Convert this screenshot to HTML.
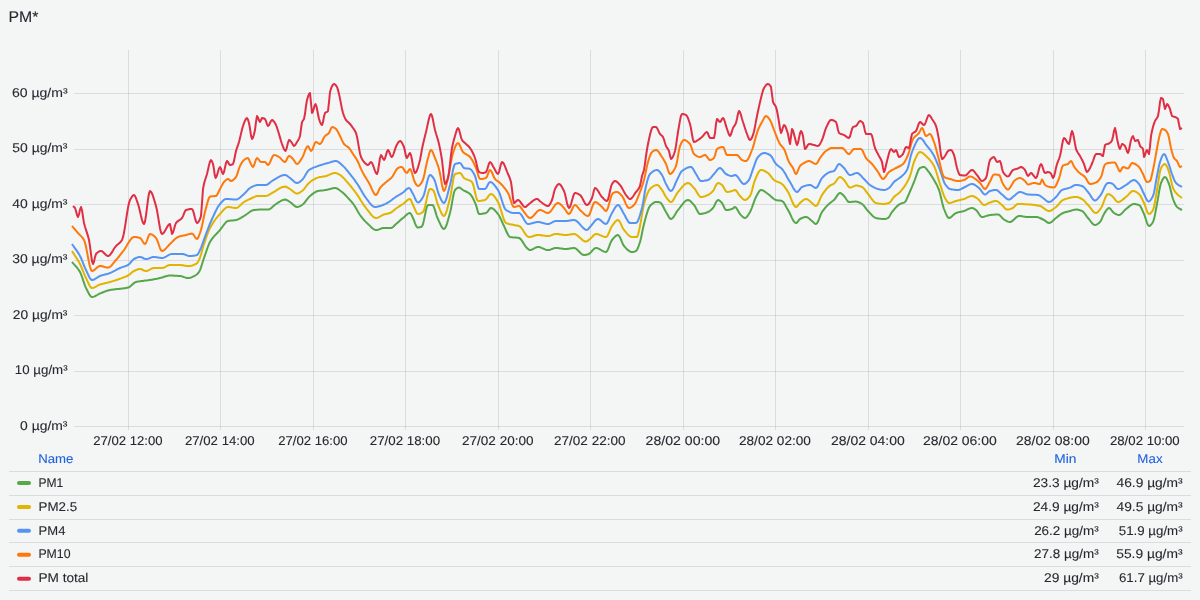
<!DOCTYPE html>
<html><head><meta charset="utf-8"><title>PM*</title>
<style>
html,body{margin:0;padding:0;background:#F4F5F5;}
body{width:1200px;height:600px;overflow:hidden;font-family:"Liberation Sans", sans-serif;}
svg{display:block;font-family:"Liberation Sans", sans-serif;will-change:transform;}
text{text-rendering:geometricPrecision;}
</style></head><body>
<svg width="1200" height="600" viewBox="0 0 1200 600">
<rect width="1200" height="600" fill="#F4F5F5"/>
<line x1="74" y1="93.5" x2="1184" y2="93.5" stroke="rgba(36,41,46,0.12)" stroke-width="1"/>
<line x1="74" y1="149.5" x2="1184" y2="149.5" stroke="rgba(36,41,46,0.12)" stroke-width="1"/>
<line x1="74" y1="204.5" x2="1184" y2="204.5" stroke="rgba(36,41,46,0.12)" stroke-width="1"/>
<line x1="74" y1="260.5" x2="1184" y2="260.5" stroke="rgba(36,41,46,0.12)" stroke-width="1"/>
<line x1="74" y1="315.5" x2="1184" y2="315.5" stroke="rgba(36,41,46,0.12)" stroke-width="1"/>
<line x1="74" y1="371.5" x2="1184" y2="371.5" stroke="rgba(36,41,46,0.12)" stroke-width="1"/>
<line x1="74" y1="426.5" x2="1184" y2="426.5" stroke="rgba(36,41,46,0.12)" stroke-width="1"/>
<line x1="128.5" y1="50" x2="128.5" y2="430" stroke="rgba(36,41,46,0.12)" stroke-width="1"/>
<line x1="220.5" y1="50" x2="220.5" y2="430" stroke="rgba(36,41,46,0.12)" stroke-width="1"/>
<line x1="313.5" y1="50" x2="313.5" y2="430" stroke="rgba(36,41,46,0.12)" stroke-width="1"/>
<line x1="405.5" y1="50" x2="405.5" y2="430" stroke="rgba(36,41,46,0.12)" stroke-width="1"/>
<line x1="498.5" y1="50" x2="498.5" y2="430" stroke="rgba(36,41,46,0.12)" stroke-width="1"/>
<line x1="590.5" y1="50" x2="590.5" y2="430" stroke="rgba(36,41,46,0.12)" stroke-width="1"/>
<line x1="683.5" y1="50" x2="683.5" y2="430" stroke="rgba(36,41,46,0.12)" stroke-width="1"/>
<line x1="775.5" y1="50" x2="775.5" y2="430" stroke="rgba(36,41,46,0.12)" stroke-width="1"/>
<line x1="868.5" y1="50" x2="868.5" y2="430" stroke="rgba(36,41,46,0.12)" stroke-width="1"/>
<line x1="960.5" y1="50" x2="960.5" y2="430" stroke="rgba(36,41,46,0.12)" stroke-width="1"/>
<line x1="1053.5" y1="50" x2="1053.5" y2="430" stroke="rgba(36,41,46,0.12)" stroke-width="1"/>
<line x1="1145.5" y1="50" x2="1145.5" y2="430" stroke="rgba(36,41,46,0.12)" stroke-width="1"/>
<path d="M72.0,262.0 L73.0,263.2 L74.0,264.3 L75.0,265.4 L76.0,266.5 L77.0,267.7 L78.0,269.0 L79.0,270.4 L80.0,272.0 L81.0,274.1 L82.0,276.8 L83.0,279.9 L84.0,282.9 L85.0,285.7 L86.0,288.0 L87.0,290.0 L88.0,292.0 L89.0,293.9 L90.0,295.5 L91.0,296.6 L92.0,297.0 L93.0,296.9 L94.0,296.6 L95.0,296.2 L96.0,295.6 L97.0,295.1 L98.0,294.5 L99.0,293.9 L100.0,293.5 L101.0,293.1 L102.0,292.7 L103.0,292.3 L104.0,291.9 L105.0,291.5 L106.0,291.1 L107.0,290.8 L108.0,290.5 L109.0,290.2 L110.0,290.0 L111.0,289.8 L112.0,289.7 L113.0,289.6 L114.0,289.5 L115.0,289.3 L116.0,289.2 L117.0,289.1 L118.0,289.0 L119.0,288.9 L120.0,288.8 L121.0,288.7 L122.0,288.5 L123.0,288.4 L124.0,288.3 L125.0,288.2 L126.0,288.0 L127.0,287.8 L128.0,287.6 L129.0,287.2 L130.0,286.6 L131.0,285.7 L132.0,284.8 L133.0,283.9 L134.0,283.1 L135.0,282.4 L136.0,282.0 L137.0,281.8 L138.0,281.6 L139.0,281.4 L140.0,281.3 L141.0,281.1 L142.0,281.0 L143.0,280.9 L144.0,280.7 L145.0,280.6 L146.0,280.5 L147.0,280.4 L148.0,280.3 L149.0,280.1 L150.0,280.0 L151.0,279.8 L152.0,279.7 L153.0,279.5 L154.0,279.3 L155.0,279.1 L156.0,278.9 L157.0,278.7 L158.0,278.4 L159.0,278.2 L160.0,278.0 L161.0,277.8 L162.0,277.5 L163.0,277.2 L164.0,276.8 L165.0,276.5 L166.0,276.2 L167.0,276.0 L168.0,275.8 L169.0,275.6 L170.0,275.6 L171.0,275.6 L172.0,275.6 L173.0,275.6 L174.0,275.7 L175.0,275.7 L176.0,275.8 L177.0,275.8 L178.0,275.9 L179.0,275.9 L180.0,276.0 L181.0,276.1 L182.0,276.4 L183.0,276.7 L184.0,277.1 L185.0,277.4 L186.0,277.7 L187.0,277.9 L188.0,278.0 L189.0,277.9 L190.0,277.8 L191.0,277.5 L192.0,277.1 L193.0,276.6 L194.0,276.1 L195.0,275.6 L196.0,275.0 L197.0,274.3 L198.0,273.3 L199.0,272.0 L200.0,270.1 L201.0,267.4 L202.0,264.2 L203.0,261.0 L204.0,258.0 L205.0,255.2 L206.0,252.2 L207.0,249.2 L208.0,246.5 L209.0,244.0 L210.0,242.0 L211.0,240.4 L212.0,238.9 L213.0,237.6 L214.0,236.4 L215.0,235.3 L216.0,234.3 L217.0,233.2 L218.0,232.2 L219.0,231.1 L220.0,230.0 L221.0,228.7 L222.0,227.4 L223.0,226.0 L224.0,224.6 L225.0,223.3 L226.0,222.2 L227.0,221.4 L228.0,221.0 L229.0,220.8 L230.0,220.7 L231.0,220.6 L232.0,220.5 L233.0,220.4 L234.0,220.3 L235.0,220.2 L236.0,220.0 L237.0,219.7 L238.0,219.4 L239.0,218.9 L240.0,218.3 L241.0,217.8 L242.0,217.2 L243.0,216.6 L244.0,216.0 L245.0,215.4 L246.0,214.7 L247.0,214.0 L248.0,213.2 L249.0,212.5 L250.0,211.8 L251.0,211.1 L252.0,210.6 L253.0,210.2 L254.0,210.0 L255.0,209.9 L256.0,209.8 L257.0,209.7 L258.0,209.7 L259.0,209.6 L260.0,209.6 L261.0,209.6 L262.0,209.6 L263.0,209.6 L264.0,209.6 L265.0,209.6 L266.0,209.6 L267.0,209.6 L268.0,209.6 L269.0,209.4 L270.0,208.9 L271.0,208.2 L272.0,207.4 L273.0,206.4 L274.0,205.5 L275.0,204.7 L276.0,204.0 L277.0,203.4 L278.0,202.7 L279.0,202.1 L280.0,201.5 L281.0,200.9 L282.0,200.4 L283.0,200.0 L284.0,199.7 L285.0,199.6 L286.0,199.8 L287.0,200.2 L288.0,200.7 L289.0,201.4 L290.0,202.0 L291.0,202.7 L292.0,203.6 L293.0,204.5 L294.0,205.4 L295.0,206.2 L296.0,206.8 L297.0,207.0 L298.0,206.9 L299.0,206.6 L300.0,206.1 L301.0,205.6 L302.0,205.0 L303.0,204.3 L304.0,203.3 L305.0,202.1 L306.0,200.7 L307.0,199.4 L308.0,198.1 L309.0,196.9 L310.0,196.0 L311.0,195.2 L312.0,194.4 L313.0,193.6 L314.0,192.9 L315.0,192.3 L316.0,191.7 L317.0,191.3 L318.0,191.0 L319.0,190.8 L320.0,190.7 L321.0,190.6 L322.0,190.5 L323.0,190.4 L324.0,190.3 L325.0,190.1 L326.0,190.0 L327.0,189.8 L328.0,189.6 L329.0,189.3 L330.0,189.0 L331.0,188.7 L332.0,188.4 L333.0,188.2 L334.0,188.1 L335.0,188.0 L336.0,188.1 L337.0,188.5 L338.0,189.0 L339.0,189.7 L340.0,190.5 L341.0,191.2 L342.0,192.0 L343.0,192.8 L344.0,193.7 L345.0,194.7 L346.0,195.7 L347.0,196.8 L348.0,197.9 L349.0,199.0 L350.0,200.1 L351.0,201.2 L352.0,202.4 L353.0,203.7 L354.0,205.0 L355.0,206.5 L356.0,208.2 L357.0,210.0 L358.0,211.8 L359.0,213.5 L360.0,215.0 L361.0,216.3 L362.0,217.6 L363.0,218.8 L364.0,220.0 L365.0,221.1 L366.0,222.1 L367.0,223.1 L368.0,224.0 L369.0,224.9 L370.0,225.9 L371.0,227.0 L372.0,227.9 L373.0,228.7 L374.0,229.4 L375.0,229.8 L376.0,230.0 L377.0,229.9 L378.0,229.7 L379.0,229.4 L380.0,229.0 L381.0,228.6 L382.0,228.3 L383.0,228.1 L384.0,228.0 L385.0,228.0 L386.0,228.0 L387.0,228.0 L388.0,228.0 L389.0,228.0 L390.0,228.0 L391.0,228.0 L392.0,227.7 L393.0,227.0 L394.0,226.0 L395.0,224.9 L396.0,224.0 L397.0,223.2 L398.0,222.3 L399.0,221.4 L400.0,220.5 L401.0,219.6 L402.0,218.8 L403.0,218.0 L404.0,217.2 L405.0,216.2 L406.0,215.3 L407.0,214.4 L408.0,213.7 L409.0,213.2 L410.0,213.0 L411.0,213.9 L412.0,215.9 L413.0,218.0 L414.1,220.7 L415.2,223.8 L416.4,226.4 L417.5,227.5 L418.6,227.4 L419.6,227.3 L420.6,227.0 L421.7,226.7 L422.8,224.8 L423.8,220.8 L424.9,215.6 L425.9,210.5 L426.9,206.6 L428.0,205.0 L429.1,205.0 L430.2,205.0 L431.4,205.0 L432.5,205.0 L433.5,206.0 L434.5,208.6 L435.5,211.9 L436.5,215.3 L437.5,218.0 L438.6,220.4 L439.7,222.8 L440.8,225.2 L441.8,227.1 L442.9,228.5 L444.0,229.0 L445.0,228.3 L446.0,226.4 L447.0,223.6 L448.0,220.2 L449.0,216.5 L450.0,213.0 L451.0,208.6 L452.0,203.0 L453.0,197.2 L454.0,192.5 L455.0,190.0 L456.0,189.0 L457.0,188.2 L458.0,187.7 L459.0,187.5 L460.0,187.8 L461.0,188.5 L462.0,189.3 L463.0,190.0 L464.0,190.6 L465.0,191.0 L466.0,191.5 L467.0,192.0 L468.0,192.6 L469.0,193.2 L470.0,194.0 L471.0,195.1 L472.0,196.6 L473.0,198.4 L474.0,200.5 L475.0,202.7 L476.0,205.0 L477.0,208.4 L478.0,212.2 L479.0,214.0 L480.0,214.0 L481.0,213.9 L482.0,213.8 L483.0,213.6 L484.0,213.5 L485.0,213.2 L486.0,213.0 L487.0,212.3 L488.0,211.1 L489.0,209.6 L490.0,208.5 L491.0,208.0 L492.0,208.2 L493.0,208.7 L494.0,209.5 L495.0,210.5 L496.0,211.6 L497.0,212.8 L498.0,214.0 L499.0,215.5 L500.0,217.3 L501.0,219.5 L502.0,221.7 L503.0,224.0 L504.0,226.0 L505.0,228.1 L506.0,230.5 L507.0,232.8 L508.0,234.8 L509.0,236.3 L510.0,237.0 L511.0,237.2 L512.0,237.3 L513.0,237.4 L514.0,237.5 L515.0,237.5 L516.0,237.6 L517.0,237.7 L518.0,237.8 L519.0,238.0 L520.0,238.5 L521.0,239.5 L522.0,240.8 L523.0,242.4 L524.0,244.0 L525.0,245.6 L526.0,247.0 L527.0,248.0 L528.0,248.9 L529.0,249.7 L530.0,250.0 L531.0,249.9 L532.0,249.5 L533.0,249.1 L534.0,248.5 L535.0,247.9 L536.0,247.5 L537.0,247.1 L538.0,247.0 L539.0,247.1 L540.0,247.3 L541.0,247.6 L542.0,248.1 L543.0,248.5 L544.0,248.9 L545.0,249.4 L546.0,249.7 L547.0,249.9 L548.0,250.0 L549.0,249.9 L550.0,249.7 L551.0,249.4 L552.0,249.0 L553.0,248.6 L554.0,248.3 L555.0,248.1 L556.0,248.0 L557.0,248.0 L558.0,248.1 L559.0,248.2 L560.0,248.4 L561.0,248.5 L562.0,248.6 L563.0,248.8 L564.0,248.9 L565.0,249.0 L566.0,249.0 L567.0,249.0 L568.0,248.8 L569.0,248.7 L570.0,248.5 L571.0,248.3 L572.0,248.2 L573.0,248.0 L574.0,248.0 L575.0,248.2 L576.0,248.7 L577.0,249.5 L578.0,250.5 L579.0,251.5 L580.0,252.5 L581.0,253.5 L582.0,254.3 L583.0,254.8 L584.0,255.0 L585.0,255.0 L586.0,254.8 L587.0,254.6 L588.0,254.4 L589.0,253.9 L590.0,253.1 L591.0,252.1 L592.0,251.0 L593.0,249.9 L594.0,248.9 L595.0,248.2 L596.0,248.0 L597.0,248.1 L598.0,248.4 L599.0,248.9 L600.0,249.4 L601.0,250.0 L602.0,250.6 L603.0,251.1 L604.0,251.6 L605.0,251.9 L606.0,252.0 L607.0,251.3 L608.0,249.4 L609.0,246.9 L610.0,244.2 L611.0,241.7 L612.0,240.0 L613.0,238.8 L614.0,237.7 L615.0,236.6 L616.0,235.8 L617.0,235.2 L618.0,235.0 L619.0,235.7 L620.0,237.4 L621.0,239.7 L622.0,242.2 L623.0,244.4 L624.0,246.0 L625.0,247.1 L626.0,248.2 L627.0,249.2 L628.0,250.1 L629.0,250.9 L630.0,251.5 L631.0,251.9 L632.0,252.0 L633.0,251.9 L634.0,251.7 L635.0,251.4 L636.0,251.0 L637.0,249.9 L638.0,247.8 L639.0,245.0 L640.0,242.0 L641.0,238.2 L642.0,233.3 L643.0,228.3 L644.0,224.0 L645.0,220.3 L646.0,216.6 L647.0,213.1 L648.0,210.0 L649.0,207.6 L650.0,206.0 L651.0,204.9 L652.0,204.0 L653.0,203.2 L654.0,202.6 L655.0,202.1 L656.0,202.0 L657.0,202.0 L658.0,202.1 L659.0,202.2 L660.0,202.4 L661.0,203.0 L662.0,204.4 L663.0,206.2 L664.0,208.3 L665.0,210.3 L666.0,212.0 L667.0,213.7 L668.0,215.5 L669.0,217.3 L670.0,218.5 L671.0,219.0 L672.0,218.6 L673.0,217.7 L674.0,216.3 L675.0,214.7 L676.0,212.9 L677.0,211.3 L678.0,210.0 L679.0,208.8 L680.0,207.5 L681.0,206.2 L682.0,204.8 L683.0,203.6 L684.0,202.4 L685.0,201.4 L686.0,200.7 L687.0,200.2 L688.0,200.0 L689.0,200.2 L690.0,200.8 L691.0,201.7 L692.0,202.8 L693.0,203.9 L694.0,205.0 L695.0,206.4 L696.0,208.3 L697.0,210.3 L698.0,212.1 L699.0,213.5 L700.0,214.0 L701.0,214.0 L702.0,213.8 L703.0,213.6 L704.0,213.4 L705.0,213.1 L706.0,212.8 L707.0,212.4 L708.0,212.0 L709.0,211.5 L710.0,210.8 L711.0,210.0 L712.0,209.0 L713.0,208.0 L714.0,206.5 L715.0,204.4 L716.0,202.3 L717.0,200.7 L718.0,200.0 L719.0,200.3 L720.0,201.0 L721.0,201.9 L722.0,203.0 L723.0,204.7 L724.0,207.0 L725.0,209.1 L726.0,210.0 L727.0,210.0 L728.0,209.9 L729.0,209.7 L730.0,209.5 L731.0,209.3 L732.0,209.0 L733.0,208.4 L734.0,207.5 L735.0,207.0 L736.0,207.6 L737.0,209.0 L738.0,210.8 L739.0,212.6 L740.0,214.0 L741.0,215.1 L742.0,216.1 L743.0,217.1 L744.0,217.7 L745.0,218.0 L746.0,217.6 L747.0,216.7 L748.0,215.3 L749.0,213.7 L750.0,212.0 L751.0,210.0 L752.0,207.5 L753.0,204.6 L754.0,201.8 L755.0,199.1 L756.0,197.0 L757.0,195.1 L758.0,193.3 L759.0,191.6 L760.0,190.4 L761.0,190.0 L762.0,190.1 L763.0,190.5 L764.0,191.1 L765.0,191.8 L766.0,192.5 L767.0,193.3 L768.0,194.0 L769.0,194.7 L770.0,195.6 L771.0,196.5 L772.0,197.4 L773.0,198.2 L774.0,199.0 L775.0,199.6 L776.0,200.0 L777.0,200.2 L778.0,200.4 L779.0,200.5 L780.0,200.6 L781.0,200.8 L782.0,201.0 L783.0,201.7 L784.0,202.9 L785.0,204.6 L786.0,206.4 L787.0,208.3 L788.0,210.0 L789.0,211.8 L790.0,213.8 L791.0,215.9 L792.0,218.1 L793.0,220.0 L794.0,221.6 L795.0,222.6 L796.0,223.0 L797.0,222.5 L798.0,221.3 L799.0,219.9 L800.0,219.0 L801.0,218.5 L802.0,218.0 L803.0,217.6 L804.0,217.3 L805.0,217.1 L806.0,217.0 L807.0,217.2 L808.0,217.7 L809.0,218.5 L810.0,219.3 L811.0,220.2 L812.0,221.0 L813.0,221.9 L814.0,222.9 L815.0,223.7 L816.0,224.0 L817.0,223.3 L818.0,221.5 L819.0,219.1 L820.0,216.4 L821.0,213.9 L822.0,212.0 L823.0,210.6 L824.0,209.3 L825.0,208.1 L826.0,206.9 L827.0,205.9 L828.0,204.8 L829.0,203.9 L830.0,203.0 L831.0,202.2 L832.0,201.5 L833.0,200.8 L834.0,200.0 L835.0,198.9 L836.0,197.4 L837.0,195.8 L838.0,194.4 L839.0,193.4 L840.0,193.0 L841.0,193.3 L842.0,194.0 L843.0,195.0 L844.0,196.0 L845.0,197.2 L846.0,198.8 L847.0,200.3 L848.0,201.5 L849.0,202.0 L850.0,202.0 L851.0,201.9 L852.0,201.8 L853.0,201.8 L854.0,201.7 L855.0,201.6 L856.0,201.6 L857.0,201.7 L858.0,202.0 L859.0,202.4 L860.0,202.8 L861.0,203.4 L862.0,204.0 L863.0,204.8 L864.0,205.9 L865.0,207.2 L866.0,208.6 L867.0,209.9 L868.0,211.0 L869.0,212.0 L870.0,213.1 L871.0,214.2 L872.0,215.3 L873.0,216.2 L874.0,217.0 L875.0,217.6 L876.0,218.0 L877.0,218.2 L878.0,218.4 L879.0,218.6 L880.0,218.7 L881.0,218.8 L882.0,218.9 L883.0,219.0 L884.0,219.0 L885.0,218.9 L886.0,218.7 L887.0,218.4 L888.0,218.0 L889.0,217.1 L890.0,215.4 L891.0,213.5 L892.0,212.0 L893.0,210.8 L894.0,209.6 L895.0,208.4 L896.0,207.3 L897.0,206.3 L898.0,205.4 L899.0,204.6 L900.0,204.0 L901.0,203.6 L902.0,203.2 L903.0,202.9 L904.0,202.6 L905.0,202.0 L906.0,200.6 L907.0,198.3 L908.0,196.0 L909.0,193.8 L910.0,191.5 L911.0,189.1 L912.0,186.8 L913.0,184.4 L914.0,182.0 L915.0,179.4 L916.0,176.5 L917.0,173.6 L918.0,171.0 L919.0,169.0 L920.0,168.0 L921.0,167.6 L922.0,167.3 L923.0,167.1 L924.0,167.0 L925.0,167.4 L926.0,168.4 L927.0,169.7 L928.0,171.0 L929.0,172.2 L930.0,173.6 L931.0,175.1 L932.0,176.7 L933.0,178.3 L934.0,180.0 L935.0,181.7 L936.0,183.5 L937.0,185.4 L938.0,187.6 L939.0,190.0 L940.0,193.3 L941.0,197.4 L942.0,201.8 L943.0,205.9 L944.0,209.0 L945.0,211.5 L946.0,213.9 L947.0,216.0 L948.0,217.5 L949.0,218.0 L950.0,217.8 L951.0,217.2 L952.0,216.3 L953.0,215.3 L954.0,214.4 L955.0,213.6 L956.0,213.0 L957.0,212.7 L958.0,212.4 L959.0,212.1 L960.0,211.9 L961.0,211.7 L962.0,211.5 L963.0,211.3 L964.0,211.0 L965.0,210.6 L966.0,210.2 L967.0,209.7 L968.0,209.2 L969.0,208.7 L970.0,208.4 L971.0,208.1 L972.0,208.0 L973.0,208.2 L974.0,208.7 L975.0,209.3 L976.0,210.0 L977.0,211.0 L978.0,212.4 L979.0,214.0 L980.0,215.5 L981.0,216.6 L982.0,217.0 L983.0,216.9 L984.0,216.7 L985.0,216.4 L986.0,216.1 L987.0,215.8 L988.0,215.4 L989.0,215.2 L990.0,215.0 L991.0,214.9 L992.0,214.8 L993.0,214.7 L994.0,214.7 L995.0,214.6 L996.0,214.5 L997.0,214.5 L998.0,214.5 L999.0,214.8 L1000.0,215.5 L1001.0,216.6 L1002.0,217.7 L1003.0,218.7 L1004.0,219.5 L1005.0,220.1 L1006.0,220.6 L1007.0,221.2 L1008.0,221.6 L1009.0,221.9 L1010.0,222.0 L1011.0,221.8 L1012.0,221.2 L1013.0,220.4 L1014.0,219.5 L1015.0,218.5 L1016.0,217.6 L1017.0,216.8 L1018.0,216.2 L1019.0,216.0 L1020.0,216.0 L1021.0,216.1 L1022.0,216.3 L1023.0,216.4 L1024.0,216.6 L1025.0,216.7 L1026.0,216.9 L1027.0,217.0 L1028.0,217.0 L1029.0,217.0 L1030.0,217.0 L1031.0,217.0 L1032.0,217.0 L1033.0,217.0 L1034.0,217.0 L1035.0,217.0 L1036.0,217.0 L1037.0,217.1 L1038.0,217.3 L1039.0,217.6 L1040.0,218.0 L1041.0,218.5 L1042.0,219.0 L1043.0,219.5 L1044.0,220.0 L1045.0,220.6 L1046.0,221.4 L1047.0,222.2 L1048.0,222.8 L1049.0,223.0 L1050.0,222.8 L1051.0,222.3 L1052.0,221.6 L1053.0,220.7 L1054.0,219.7 L1055.0,218.8 L1056.0,218.0 L1057.0,217.2 L1058.0,216.4 L1059.0,215.6 L1060.0,214.8 L1061.0,214.1 L1062.0,213.5 L1063.0,213.0 L1064.0,212.6 L1065.0,212.3 L1066.0,212.0 L1067.0,211.7 L1068.0,211.5 L1069.0,211.2 L1070.0,211.0 L1071.0,210.7 L1072.0,210.4 L1073.0,210.1 L1074.0,209.8 L1075.0,209.7 L1076.0,209.6 L1077.0,209.6 L1078.0,209.8 L1079.0,210.0 L1080.0,210.3 L1081.0,210.6 L1082.0,211.0 L1083.0,211.6 L1084.0,212.7 L1085.0,214.0 L1086.0,215.4 L1087.0,216.8 L1088.0,218.0 L1089.0,219.2 L1090.0,220.5 L1091.0,221.8 L1092.0,223.0 L1093.0,224.1 L1094.0,224.7 L1095.0,225.0 L1096.0,224.8 L1097.0,224.4 L1098.0,223.7 L1099.0,222.9 L1100.0,222.0 L1101.0,220.5 L1102.0,218.3 L1103.0,215.9 L1104.0,214.0 L1105.0,212.4 L1106.0,210.8 L1107.0,209.4 L1108.0,208.4 L1109.0,208.0 L1110.0,208.4 L1111.0,209.5 L1112.0,210.8 L1113.0,212.1 L1114.0,213.0 L1115.0,213.6 L1116.0,214.1 L1117.0,214.6 L1118.0,214.9 L1119.0,215.0 L1120.0,214.8 L1121.0,214.1 L1122.0,213.2 L1123.0,212.1 L1124.0,210.9 L1125.0,209.9 L1126.0,209.0 L1127.0,208.2 L1128.0,207.4 L1129.0,206.6 L1130.0,205.8 L1131.0,205.1 L1132.0,204.5 L1133.0,204.1 L1134.0,204.0 L1135.0,204.0 L1136.0,204.2 L1137.0,204.4 L1138.0,204.7 L1139.0,205.0 L1140.0,205.8 L1141.0,207.4 L1142.0,209.5 L1143.0,211.8 L1144.0,214.0 L1145.0,216.6 L1146.0,219.7 L1147.0,222.8 L1148.0,225.1 L1149.0,226.0 L1150.0,225.7 L1151.0,224.8 L1152.0,223.5 L1153.0,222.0 L1154.0,219.2 L1155.0,214.6 L1156.0,209.2 L1157.0,204.0 L1158.0,198.4 L1159.0,192.2 L1160.0,186.7 L1161.0,183.0 L1162.0,180.8 L1163.0,178.8 L1164.0,177.5 L1165.0,177.0 L1166.0,177.6 L1167.0,179.3 L1168.0,181.6 L1169.0,184.0 L1170.0,187.2 L1171.0,191.4 L1172.0,195.6 L1173.0,199.0 L1174.0,201.5 L1175.0,203.8 L1176.0,205.7 L1177.0,207.0 L1178.0,207.8 L1179.0,208.4 L1180.0,209.0 L1181.0,209.5 L1182.0,210.0" fill="none" stroke="#56A64B" stroke-width="2" stroke-linejoin="round"/>
<path d="M72.0,251.0 L73.0,252.6 L74.0,254.1 L75.0,255.7 L76.0,257.2 L77.0,258.8 L78.0,260.4 L79.0,262.1 L80.0,264.0 L81.0,266.1 L82.0,268.5 L83.0,271.0 L84.0,273.5 L85.0,275.9 L86.0,278.0 L87.0,280.1 L88.0,282.3 L89.0,284.5 L90.0,286.3 L91.0,287.5 L92.0,288.0 L93.0,287.9 L94.0,287.6 L95.0,287.1 L96.0,286.6 L97.0,286.0 L98.0,285.4 L99.0,284.9 L100.0,284.5 L101.0,284.2 L102.0,283.9 L103.0,283.7 L104.0,283.4 L105.0,283.2 L106.0,283.0 L107.0,282.8 L108.0,282.5 L109.0,282.3 L110.0,282.0 L111.0,281.7 L112.0,281.4 L113.0,281.1 L114.0,280.8 L115.0,280.5 L116.0,280.1 L117.0,279.8 L118.0,279.5 L119.0,279.1 L120.0,278.7 L121.0,278.4 L122.0,278.0 L123.0,277.6 L124.0,277.3 L125.0,276.9 L126.0,276.5 L127.0,276.0 L128.0,275.5 L129.0,274.9 L130.0,274.1 L131.0,273.2 L132.0,272.3 L133.0,271.6 L134.0,271.0 L135.0,270.5 L136.0,270.1 L137.0,269.7 L138.0,269.3 L139.0,269.1 L140.0,269.0 L141.0,269.1 L142.0,269.5 L143.0,270.0 L144.0,270.5 L145.0,270.9 L146.0,271.0 L147.0,270.9 L148.0,270.5 L149.0,270.1 L150.0,269.5 L151.0,268.9 L152.0,268.5 L153.0,268.1 L154.0,268.0 L155.0,268.0 L156.0,268.0 L157.0,268.0 L158.0,268.0 L159.0,268.0 L160.0,268.0 L161.0,268.0 L162.0,268.0 L163.0,267.9 L164.0,267.5 L165.0,267.1 L166.0,266.5 L167.0,265.9 L168.0,265.5 L169.0,265.1 L170.0,265.0 L171.0,265.0 L172.0,265.0 L173.0,265.0 L174.0,265.0 L175.0,265.0 L176.0,265.0 L177.0,265.0 L178.0,265.0 L179.0,265.0 L180.0,265.0 L181.0,265.0 L182.0,265.2 L183.0,265.3 L184.0,265.5 L185.0,265.7 L186.0,265.8 L187.0,266.0 L188.0,266.0 L189.0,266.0 L190.0,265.9 L191.0,265.7 L192.0,265.5 L193.0,265.2 L194.0,264.8 L195.0,264.4 L196.0,264.0 L197.0,263.2 L198.0,261.7 L199.0,260.0 L200.0,257.6 L201.0,254.5 L202.0,250.9 L203.0,247.2 L204.0,244.0 L205.0,241.1 L206.0,238.1 L207.0,235.2 L208.0,232.5 L209.0,230.1 L210.0,228.0 L211.0,226.2 L212.0,224.5 L213.0,222.9 L214.0,221.4 L215.0,220.0 L216.0,218.7 L217.0,217.4 L218.0,216.2 L219.0,215.1 L220.0,214.0 L221.0,212.9 L222.0,211.7 L223.0,210.5 L224.0,209.4 L225.0,208.5 L226.0,207.7 L227.0,207.2 L228.0,207.0 L229.0,207.0 L230.0,207.2 L231.0,207.3 L232.0,207.5 L233.0,207.7 L234.0,207.8 L235.0,208.0 L236.0,208.0 L237.0,207.8 L238.0,207.3 L239.0,206.5 L240.0,205.6 L241.0,204.6 L242.0,203.6 L243.0,202.7 L244.0,202.0 L245.0,201.4 L246.0,200.9 L247.0,200.4 L248.0,199.9 L249.0,199.4 L250.0,199.0 L251.0,198.5 L252.0,198.0 L253.0,197.5 L254.0,197.1 L255.0,196.6 L256.0,196.3 L257.0,196.1 L258.0,196.0 L259.0,196.0 L260.0,196.0 L261.0,196.0 L262.0,196.0 L263.0,196.0 L264.0,196.0 L265.0,196.0 L266.0,196.0 L267.0,195.8 L268.0,195.4 L269.0,194.9 L270.0,194.2 L271.0,193.6 L272.0,193.0 L273.0,192.5 L274.0,191.9 L275.0,191.3 L276.0,190.6 L277.0,189.9 L278.0,189.3 L279.0,188.7 L280.0,188.1 L281.0,187.6 L282.0,187.2 L283.0,186.9 L284.0,186.7 L285.0,186.6 L286.0,186.8 L287.0,187.2 L288.0,187.8 L289.0,188.4 L290.0,189.0 L291.0,189.7 L292.0,190.5 L293.0,191.3 L294.0,192.2 L295.0,192.9 L296.0,193.4 L297.0,193.6 L298.0,193.4 L299.0,193.0 L300.0,192.4 L301.0,191.7 L302.0,191.0 L303.0,190.2 L304.0,189.1 L305.0,187.9 L306.0,186.5 L307.0,185.2 L308.0,184.0 L309.0,182.9 L310.0,182.0 L311.0,181.3 L312.0,180.6 L313.0,179.9 L314.0,179.4 L315.0,178.8 L316.0,178.3 L317.0,177.9 L318.0,177.6 L319.0,177.3 L320.0,177.1 L321.0,176.9 L322.0,176.8 L323.0,176.6 L324.0,176.4 L325.0,176.2 L326.0,176.0 L327.0,175.7 L328.0,175.3 L329.0,174.9 L330.0,174.4 L331.0,174.0 L332.0,173.6 L333.0,173.3 L334.0,173.1 L335.0,173.0 L336.0,173.1 L337.0,173.4 L338.0,173.9 L339.0,174.4 L340.0,175.0 L341.0,175.6 L342.0,176.5 L343.0,177.4 L344.0,178.4 L345.0,179.6 L346.0,180.7 L347.0,181.9 L348.0,183.0 L349.0,184.1 L350.0,185.3 L351.0,186.5 L352.0,187.8 L353.0,189.0 L354.0,190.3 L355.0,191.7 L356.0,193.0 L357.0,194.4 L358.0,195.9 L359.0,197.5 L360.0,199.1 L361.0,200.7 L362.0,202.3 L363.0,203.9 L364.0,205.3 L365.0,206.7 L366.0,208.0 L367.0,209.3 L368.0,210.6 L369.0,211.9 L370.0,213.2 L371.0,214.5 L372.0,215.6 L373.0,216.6 L374.0,217.3 L375.0,217.8 L376.0,218.0 L377.0,217.9 L378.0,217.6 L379.0,217.1 L380.0,216.6 L381.0,216.0 L382.0,215.4 L383.0,214.9 L384.0,214.5 L385.0,214.2 L386.0,214.0 L387.0,213.8 L388.0,213.6 L389.0,213.3 L390.0,213.0 L391.0,212.5 L391.9,211.9 L392.9,211.2 L393.8,210.3 L394.8,209.5 L395.7,208.7 L396.7,208.0 L397.8,207.3 L398.8,206.6 L399.9,206.0 L400.9,205.3 L401.9,204.7 L403.0,204.0 L404.0,203.2 L405.0,202.3 L406.0,201.4 L407.0,200.5 L408.0,199.7 L409.0,199.2 L410.0,199.0 L411.0,200.1 L412.0,202.6 L413.0,205.0 L414.0,207.2 L415.0,209.5 L416.0,211.7 L417.0,213.4 L418.0,214.0 L419.0,213.9 L420.0,213.6 L421.0,213.2 L422.0,212.6 L423.0,212.0 L424.0,210.2 L425.0,206.7 L426.0,202.3 L427.0,197.6 L428.0,193.3 L429.0,190.2 L430.0,189.0 L431.0,189.1 L432.0,189.5 L433.0,190.0 L434.0,191.6 L435.0,194.6 L436.0,198.3 L437.0,202.1 L438.0,205.0 L439.0,207.4 L440.0,209.9 L441.0,212.2 L442.0,214.2 L443.0,215.5 L444.0,216.0 L445.0,215.2 L446.0,213.0 L447.0,209.8 L448.0,206.0 L449.0,201.9 L450.0,198.0 L451.0,193.2 L452.0,187.1 L453.0,180.9 L454.0,176.1 L455.0,174.0 L456.0,173.7 L457.0,173.4 L458.0,173.2 L459.0,173.0 L460.0,173.0 L461.0,173.6 L462.0,175.1 L463.0,176.8 L464.0,178.0 L465.0,178.6 L466.0,179.1 L467.0,179.5 L468.0,179.9 L469.0,180.2 L470.0,180.6 L471.0,181.2 L472.0,182.0 L473.0,184.0 L474.0,187.7 L475.0,192.2 L476.0,196.5 L477.0,199.7 L478.0,201.0 L479.0,201.0 L480.0,200.9 L481.0,200.8 L482.0,200.6 L483.0,200.5 L484.0,200.2 L485.0,200.0 L486.0,199.4 L487.0,198.2 L488.0,196.8 L489.0,195.4 L490.0,194.4 L491.0,194.0 L492.0,194.2 L493.0,194.9 L494.0,196.0 L495.0,197.3 L496.0,198.8 L497.0,200.4 L498.0,202.0 L499.0,204.1 L500.0,206.9 L501.0,210.2 L502.0,213.6 L503.0,216.9 L504.0,219.8 L505.0,221.9 L506.0,223.0 L507.0,223.4 L508.0,223.7 L509.0,224.0 L510.0,224.2 L511.0,224.4 L512.0,224.6 L513.0,224.8 L514.0,225.0 L515.0,225.2 L516.0,225.4 L517.0,225.5 L518.0,225.7 L519.0,226.0 L520.0,226.6 L521.0,227.5 L522.0,228.8 L523.0,230.3 L524.0,231.9 L525.0,233.4 L526.0,234.8 L527.0,236.0 L528.0,236.7 L529.0,237.0 L530.0,236.9 L531.0,236.7 L532.0,236.5 L533.0,236.2 L534.0,235.8 L535.0,235.5 L536.0,235.3 L537.0,235.1 L538.0,235.0 L539.0,235.0 L540.0,235.1 L541.0,235.2 L542.0,235.4 L543.0,235.5 L544.0,235.6 L545.0,235.8 L546.0,235.9 L547.0,236.0 L548.0,236.0 L549.0,235.9 L550.0,235.7 L551.0,235.4 L552.0,235.0 L553.0,234.6 L554.0,234.3 L555.0,234.1 L556.0,234.0 L557.0,234.0 L558.0,234.1 L559.0,234.2 L560.0,234.4 L561.0,234.5 L562.0,234.6 L563.0,234.8 L564.0,234.9 L565.0,235.0 L566.0,235.0 L567.0,235.0 L568.0,234.8 L569.0,234.7 L570.0,234.5 L571.0,234.3 L572.0,234.2 L573.0,234.0 L574.0,234.0 L575.0,234.1 L576.0,234.6 L577.0,235.2 L578.0,236.0 L579.0,236.9 L580.0,237.8 L581.0,238.7 L582.0,239.6 L583.0,240.4 L584.0,241.0 L585.0,241.5 L586.0,241.6 L587.0,241.3 L588.0,240.7 L589.0,239.8 L590.0,239.0 L591.0,238.1 L592.0,237.1 L593.0,236.0 L594.0,235.0 L595.0,234.3 L596.0,234.0 L597.0,234.1 L598.0,234.3 L599.0,234.6 L600.0,235.1 L601.0,235.5 L602.0,235.9 L603.0,236.4 L604.0,236.7 L605.0,236.9 L606.0,237.0 L607.0,236.4 L608.0,234.7 L609.0,232.5 L610.0,230.0 L611.0,227.7 L612.0,226.0 L613.0,224.7 L614.0,223.3 L615.0,222.0 L616.0,221.0 L617.0,220.3 L618.0,220.0 L619.0,220.6 L620.0,222.1 L621.0,224.1 L622.0,226.4 L623.0,228.5 L624.0,230.0 L625.0,231.2 L626.0,232.4 L627.0,233.6 L628.0,234.7 L629.0,235.6 L630.0,236.3 L631.0,236.8 L632.0,237.0 L633.0,237.0 L634.0,237.0 L635.0,237.0 L636.0,237.0 L637.0,237.0 L638.0,235.1 L639.0,230.8 L640.0,226.0 L641.0,220.8 L642.0,214.6 L643.0,208.6 L644.0,204.0 L645.0,200.6 L646.0,197.4 L647.0,194.6 L648.0,192.2 L649.0,190.3 L650.0,189.0 L651.0,188.1 L652.0,187.2 L653.0,186.5 L654.0,185.9 L655.0,185.4 L656.0,185.1 L657.0,185.0 L658.0,185.3 L659.0,186.1 L660.0,187.3 L661.0,188.7 L662.0,190.0 L663.0,191.6 L664.0,193.5 L665.0,195.4 L666.0,197.0 L667.0,198.3 L668.0,199.7 L669.0,200.9 L670.0,201.7 L671.0,202.0 L672.0,201.6 L673.0,200.5 L674.0,198.9 L675.0,197.0 L676.0,195.1 L677.0,193.4 L678.0,192.0 L679.0,190.8 L680.0,189.6 L681.0,188.4 L682.0,187.2 L683.0,186.1 L684.0,185.1 L685.0,184.2 L686.0,183.6 L687.0,183.2 L688.0,183.0 L689.0,183.2 L690.0,183.8 L691.0,184.7 L692.0,185.8 L693.0,186.9 L694.0,188.0 L695.0,189.2 L696.0,190.8 L697.0,192.5 L698.0,194.2 L699.0,195.6 L700.0,196.6 L701.0,197.0 L702.0,196.9 L703.0,196.8 L704.0,196.5 L705.0,196.2 L706.0,195.8 L707.0,195.4 L708.0,195.0 L709.0,194.5 L710.0,193.8 L711.0,193.0 L712.0,192.0 L713.0,191.0 L714.0,189.5 L715.0,187.4 L716.0,185.3 L717.0,183.7 L718.0,183.0 L719.0,183.2 L720.0,183.6 L721.0,184.3 L722.0,185.0 L723.0,186.2 L724.0,188.0 L725.0,189.9 L726.0,191.4 L727.0,192.0 L728.0,191.9 L729.0,191.8 L730.0,191.5 L731.0,191.3 L732.0,191.0 L733.0,190.6 L734.0,190.2 L735.0,190.0 L736.0,190.5 L737.0,191.7 L738.0,193.2 L739.0,194.8 L740.0,196.0 L741.0,197.0 L742.0,198.1 L743.0,199.1 L744.0,199.7 L745.0,200.0 L746.0,199.8 L747.0,199.2 L748.0,198.3 L749.0,197.2 L750.0,196.0 L751.0,193.9 L752.0,190.5 L753.0,186.6 L754.0,182.9 L755.0,180.0 L756.0,177.7 L757.0,175.4 L758.0,173.3 L759.0,171.6 L760.0,170.4 L761.0,170.0 L762.0,170.1 L763.0,170.3 L764.0,170.7 L765.0,171.2 L766.0,171.8 L767.0,172.4 L768.0,173.0 L769.0,173.9 L770.0,175.1 L771.0,176.4 L772.0,177.8 L773.0,179.1 L774.0,180.0 L775.0,180.6 L776.0,181.1 L777.0,181.6 L778.0,182.0 L779.0,182.4 L780.0,182.8 L781.0,183.3 L782.0,184.0 L783.0,184.9 L784.0,186.0 L785.0,187.4 L786.0,188.9 L787.0,190.4 L788.0,192.0 L789.0,193.8 L790.0,196.1 L791.0,198.6 L792.0,201.0 L793.0,203.3 L794.0,205.2 L795.0,206.5 L796.0,207.0 L797.0,206.5 L798.0,205.4 L799.0,204.1 L800.0,203.0 L801.0,202.1 L802.0,201.2 L803.0,200.4 L804.0,199.7 L805.0,199.2 L806.0,199.0 L807.0,199.2 L808.0,199.7 L809.0,200.5 L810.0,201.3 L811.0,202.2 L812.0,203.0 L813.0,203.9 L814.0,204.9 L815.0,205.7 L816.0,206.0 L817.0,205.4 L818.0,203.8 L819.0,201.6 L820.0,199.1 L821.0,196.8 L822.0,195.0 L823.0,193.6 L824.0,192.2 L825.0,190.8 L826.0,189.5 L827.0,188.3 L828.0,187.3 L829.0,186.4 L830.0,185.6 L831.0,185.0 L832.0,184.6 L833.0,184.2 L834.0,183.6 L835.0,182.6 L836.0,181.3 L837.0,179.8 L838.0,178.4 L839.0,177.4 L840.0,177.0 L841.0,177.3 L842.0,178.0 L843.0,179.0 L844.0,180.0 L845.0,181.2 L846.0,182.8 L847.0,184.5 L848.0,186.0 L849.0,187.2 L850.0,187.6 L851.0,187.5 L852.0,187.1 L853.0,186.6 L854.0,186.1 L855.0,185.7 L856.0,185.6 L857.0,185.6 L858.0,185.8 L859.0,186.0 L860.0,186.3 L861.0,186.6 L862.0,187.0 L863.0,187.6 L864.0,188.7 L865.0,189.9 L866.0,191.3 L867.0,192.7 L868.0,194.0 L869.0,195.2 L870.0,196.6 L871.0,198.0 L872.0,199.4 L873.0,200.7 L874.0,201.8 L875.0,202.6 L876.0,203.0 L877.0,203.2 L878.0,203.4 L879.0,203.6 L880.0,203.7 L881.0,203.8 L882.0,203.9 L883.0,204.0 L884.0,204.0 L885.0,204.0 L886.0,203.8 L887.0,203.6 L888.0,203.3 L889.0,203.0 L890.0,202.3 L891.0,201.1 L892.0,199.7 L893.0,198.2 L894.0,197.0 L895.0,196.1 L896.0,195.3 L897.0,194.5 L898.0,193.8 L899.0,192.9 L900.0,192.0 L901.0,190.9 L902.0,189.7 L903.0,188.4 L904.0,187.1 L905.0,185.6 L906.0,184.0 L907.0,182.3 L908.0,180.5 L909.0,178.4 L910.0,176.0 L911.0,172.8 L912.0,168.9 L913.0,165.0 L914.0,162.0 L915.0,159.7 L916.0,157.4 L917.0,155.3 L918.0,153.6 L919.0,152.4 L920.0,152.0 L921.0,152.2 L922.0,152.6 L923.0,153.3 L924.0,154.1 L925.0,155.1 L926.0,156.0 L927.0,157.0 L928.0,158.0 L929.0,159.0 L930.0,160.1 L931.0,161.4 L932.0,162.7 L933.0,164.3 L934.0,166.0 L935.0,168.2 L936.0,171.0 L937.0,174.2 L938.0,177.6 L939.0,180.9 L940.0,184.0 L941.0,187.0 L942.0,190.2 L943.0,193.2 L944.0,195.9 L945.0,198.0 L946.0,199.7 L947.0,201.4 L948.0,202.5 L949.0,203.0 L950.0,202.9 L951.0,202.7 L952.0,202.4 L953.0,202.0 L954.0,201.7 L955.0,201.3 L956.0,201.0 L957.0,200.7 L958.0,200.5 L959.0,200.3 L960.0,200.0 L961.0,199.8 L962.0,199.5 L963.0,199.3 L964.0,199.0 L965.0,198.6 L966.0,198.2 L967.0,197.7 L968.0,197.2 L969.0,196.7 L970.0,196.4 L971.0,196.1 L972.0,196.0 L973.0,196.1 L974.0,196.5 L975.0,197.0 L976.0,197.6 L977.0,198.3 L978.0,199.0 L979.0,199.9 L980.0,201.1 L981.0,202.5 L982.0,203.7 L983.0,204.6 L984.0,205.0 L985.0,204.9 L986.0,204.5 L987.0,204.0 L988.0,203.4 L989.0,202.9 L990.0,202.5 L991.0,202.2 L992.0,201.8 L993.0,201.5 L994.0,201.2 L995.0,201.1 L996.0,201.0 L997.0,201.2 L998.0,201.7 L999.0,202.4 L1000.0,203.3 L1001.0,204.2 L1002.0,205.0 L1003.0,206.0 L1004.0,207.2 L1005.0,208.4 L1006.0,209.2 L1007.0,209.6 L1008.0,209.5 L1009.0,209.4 L1010.0,209.1 L1011.0,208.8 L1012.0,208.5 L1013.0,207.9 L1014.0,207.0 L1015.0,206.0 L1016.0,205.0 L1017.0,204.3 L1018.0,204.0 L1019.0,204.0 L1020.0,204.0 L1021.0,204.0 L1022.0,204.1 L1023.0,204.1 L1024.0,204.2 L1025.0,204.2 L1026.0,204.3 L1027.0,204.3 L1028.0,204.4 L1029.0,204.5 L1030.0,204.5 L1031.0,204.6 L1032.0,204.7 L1033.0,204.8 L1034.0,205.0 L1035.0,205.1 L1036.0,205.2 L1037.0,205.4 L1038.0,205.6 L1039.0,205.8 L1040.0,206.0 L1041.0,206.3 L1042.0,206.9 L1043.0,207.6 L1044.0,208.4 L1045.0,209.1 L1046.0,209.9 L1047.0,210.4 L1048.0,210.9 L1049.0,211.0 L1050.0,210.9 L1051.0,210.5 L1052.0,210.0 L1053.0,209.3 L1054.0,208.5 L1055.0,207.8 L1056.0,207.0 L1057.0,206.1 L1058.0,205.0 L1059.0,203.8 L1060.0,202.6 L1061.0,201.5 L1062.0,200.6 L1063.0,200.0 L1064.0,199.6 L1065.0,199.2 L1066.0,198.9 L1067.0,198.6 L1068.0,198.3 L1069.0,198.0 L1070.0,197.7 L1071.0,197.5 L1072.0,197.3 L1073.0,197.2 L1074.0,197.1 L1075.0,197.0 L1076.0,197.0 L1077.0,197.1 L1078.0,197.3 L1079.0,197.6 L1080.0,198.0 L1081.0,198.5 L1082.0,199.0 L1083.0,199.7 L1084.0,200.6 L1085.0,201.6 L1086.0,202.8 L1087.0,203.9 L1088.0,205.0 L1089.0,206.1 L1090.0,207.4 L1091.0,208.7 L1092.0,210.0 L1093.0,211.2 L1094.0,212.1 L1095.0,212.8 L1096.0,213.0 L1097.0,212.7 L1098.0,211.9 L1099.0,210.7 L1100.0,209.4 L1101.0,208.0 L1102.0,206.3 L1103.0,203.9 L1104.0,201.2 L1105.0,198.5 L1106.0,196.2 L1107.0,194.6 L1108.0,194.0 L1109.0,194.2 L1110.0,194.7 L1111.0,195.3 L1112.0,196.0 L1113.0,196.9 L1114.0,198.1 L1115.0,199.5 L1116.0,200.7 L1117.0,201.6 L1118.0,202.0 L1119.0,201.9 L1120.0,201.5 L1121.0,200.9 L1122.0,200.2 L1123.0,199.4 L1124.0,198.6 L1125.0,197.8 L1126.0,197.0 L1127.0,196.1 L1128.0,195.1 L1129.0,193.9 L1130.0,192.8 L1131.0,191.9 L1132.0,191.2 L1133.0,191.0 L1134.0,191.1 L1135.0,191.4 L1136.0,191.9 L1137.0,192.5 L1138.0,193.2 L1139.0,194.0 L1140.0,195.1 L1141.0,196.8 L1142.0,198.8 L1143.0,200.9 L1144.0,203.0 L1145.0,205.4 L1146.0,208.3 L1147.0,211.1 L1148.0,213.2 L1149.0,214.0 L1150.0,213.7 L1151.0,212.8 L1152.0,211.6 L1153.0,210.0 L1154.0,206.9 L1155.0,201.8 L1156.0,195.8 L1157.0,190.0 L1158.0,183.9 L1159.0,177.2 L1160.0,171.4 L1161.0,168.0 L1162.0,166.4 L1163.0,165.2 L1164.0,164.3 L1165.0,164.0 L1166.0,164.8 L1167.0,166.7 L1168.0,169.2 L1169.0,172.0 L1170.0,175.6 L1171.0,180.2 L1172.0,184.8 L1173.0,188.0 L1174.0,190.0 L1175.0,191.6 L1176.0,192.9 L1177.0,194.0 L1178.0,195.0 L1179.0,195.8 L1180.0,196.5 L1181.0,197.2 L1182.0,198.0" fill="none" stroke="#E0B400" stroke-width="2" stroke-linejoin="round"/>
<path d="M72.0,244.0 L73.0,245.5 L74.0,246.9 L75.0,248.3 L76.0,249.7 L77.0,251.1 L78.0,252.6 L79.0,254.2 L80.0,256.0 L81.0,258.0 L82.0,260.4 L83.0,262.9 L84.0,265.5 L85.0,267.9 L86.0,270.0 L87.0,272.1 L88.0,274.3 L89.0,276.5 L90.0,278.3 L91.0,279.5 L92.0,280.0 L93.0,279.9 L94.0,279.5 L95.0,279.0 L96.0,278.4 L97.0,277.7 L98.0,277.1 L99.0,276.5 L100.0,276.0 L101.0,275.6 L102.0,275.3 L103.0,275.0 L104.0,274.8 L105.0,274.5 L106.0,274.2 L107.0,274.0 L108.0,273.7 L109.0,273.4 L110.0,273.0 L111.0,272.6 L112.0,272.1 L113.0,271.6 L114.0,271.1 L115.0,270.6 L116.0,270.0 L117.0,269.5 L118.0,268.9 L119.0,268.5 L120.0,268.0 L121.0,267.6 L122.0,267.3 L123.0,266.9 L124.0,266.6 L125.0,266.3 L126.0,265.9 L127.0,265.5 L128.0,265.0 L129.0,264.2 L130.0,263.2 L131.0,262.0 L132.0,260.8 L133.0,259.7 L134.0,259.0 L135.0,258.5 L136.0,258.0 L137.0,257.6 L138.0,257.3 L139.0,257.1 L140.0,257.0 L141.0,257.1 L142.0,257.5 L143.0,258.0 L144.0,258.5 L145.0,258.9 L146.0,259.0 L147.0,258.9 L148.0,258.7 L149.0,258.4 L150.0,258.0 L151.0,257.6 L152.0,257.3 L153.0,257.1 L154.0,257.0 L155.0,257.0 L156.0,257.2 L157.0,257.3 L158.0,257.5 L159.0,257.7 L160.0,257.8 L161.0,258.0 L162.0,258.0 L163.0,257.9 L164.0,257.6 L165.0,257.1 L166.0,256.6 L167.0,256.0 L168.0,255.4 L169.0,254.9 L170.0,254.4 L171.0,254.1 L172.0,254.0 L173.0,254.0 L174.0,254.0 L175.0,254.0 L176.0,254.0 L177.0,254.0 L178.0,254.0 L179.0,254.0 L180.0,254.0 L181.0,254.0 L182.0,254.0 L183.0,254.1 L184.0,254.3 L185.0,254.6 L186.0,255.0 L187.0,255.4 L188.0,255.7 L189.0,255.9 L190.0,256.0 L191.0,256.0 L192.0,255.9 L193.0,255.8 L194.0,255.7 L195.0,255.5 L196.0,255.3 L197.0,255.0 L198.0,254.0 L199.0,252.1 L200.0,250.0 L201.0,247.8 L202.0,245.2 L203.0,242.4 L204.0,239.6 L205.0,236.7 L206.0,234.0 L207.0,231.4 L208.0,228.8 L209.0,226.2 L210.0,223.7 L211.0,221.3 L212.0,219.0 L213.0,216.8 L214.0,214.7 L215.0,212.5 L216.0,210.5 L217.0,208.6 L218.0,206.8 L219.0,205.3 L220.0,204.0 L221.0,202.8 L222.0,201.7 L223.0,200.7 L224.0,199.8 L225.0,199.2 L226.0,199.0 L227.0,199.0 L228.0,199.1 L229.0,199.1 L230.0,199.2 L231.0,199.2 L232.0,199.3 L233.0,199.4 L234.0,199.4 L235.0,199.5 L236.0,199.5 L237.0,199.4 L238.0,198.9 L239.0,198.3 L240.0,197.6 L241.0,196.7 L242.0,195.8 L243.0,194.9 L244.0,194.0 L245.0,193.1 L246.0,192.0 L247.0,190.8 L248.0,189.7 L249.0,188.7 L250.0,188.0 L251.0,187.4 L252.0,186.9 L253.0,186.4 L254.0,185.9 L255.0,185.6 L256.0,185.3 L257.0,185.1 L258.0,185.0 L259.0,185.0 L260.0,185.0 L261.0,185.0 L262.0,185.0 L263.0,185.0 L264.0,185.0 L265.0,185.0 L266.0,185.0 L267.0,184.8 L268.0,184.2 L269.0,183.4 L270.0,182.5 L271.0,181.7 L272.0,181.0 L273.0,180.4 L274.0,179.8 L275.0,179.2 L276.0,178.6 L277.0,178.0 L278.0,177.4 L279.0,176.8 L280.0,176.3 L281.0,175.9 L282.0,175.5 L283.0,175.2 L284.0,175.1 L285.0,175.0 L286.0,175.2 L287.0,175.7 L288.0,176.5 L289.0,177.3 L290.0,178.0 L291.0,178.8 L292.0,179.7 L293.0,180.6 L294.0,181.5 L295.0,182.3 L296.0,182.8 L297.0,183.0 L298.0,182.8 L299.0,182.3 L300.0,181.7 L301.0,180.8 L302.0,180.0 L303.0,178.9 L304.0,177.5 L305.0,175.8 L306.0,174.0 L307.0,172.4 L308.0,171.0 L309.0,170.0 L310.0,169.4 L311.0,168.8 L312.0,168.3 L313.0,167.8 L314.0,167.4 L315.0,167.1 L316.0,166.7 L317.0,166.4 L318.0,166.0 L319.0,165.6 L320.0,165.3 L321.0,165.0 L322.0,164.7 L323.0,164.4 L324.0,164.1 L325.0,163.8 L326.0,163.5 L327.0,163.3 L328.0,163.0 L329.0,162.7 L330.0,162.4 L331.0,162.0 L332.0,161.7 L333.0,161.4 L334.0,161.2 L335.0,161.1 L336.0,161.0 L337.0,161.2 L338.0,161.7 L339.0,162.4 L340.0,163.2 L341.0,164.1 L342.0,165.0 L343.0,165.9 L344.0,166.9 L345.0,167.9 L346.0,169.1 L347.0,170.3 L348.0,171.5 L349.0,172.8 L350.0,174.0 L351.0,175.3 L352.0,176.6 L353.0,177.9 L354.0,179.2 L355.0,180.6 L356.0,182.1 L357.0,183.5 L358.0,185.0 L359.0,186.6 L360.0,188.2 L361.0,190.0 L362.0,191.7 L363.0,193.5 L364.0,195.1 L365.0,196.7 L366.0,198.0 L367.0,199.3 L368.0,200.6 L369.0,202.0 L370.0,203.3 L371.0,204.5 L372.0,205.5 L373.0,206.3 L374.0,206.8 L375.0,207.0 L376.0,206.9 L377.0,206.8 L378.0,206.5 L379.0,206.3 L380.0,206.0 L381.0,205.7 L382.0,205.4 L383.0,205.0 L384.0,204.5 L385.0,204.1 L386.0,203.6 L387.0,203.0 L388.0,202.5 L389.0,201.9 L390.0,201.2 L391.0,200.5 L392.0,199.7 L393.0,198.9 L394.0,198.2 L395.0,197.5 L396.0,196.8 L397.0,196.2 L398.0,195.6 L399.0,195.0 L400.0,194.4 L401.0,193.8 L402.0,193.2 L403.0,192.5 L404.0,191.7 L405.0,190.7 L406.0,189.7 L407.0,188.9 L408.0,188.2 L409.0,188.0 L409.9,188.5 L410.8,189.8 L411.6,191.5 L412.5,193.0 L413.4,194.7 L414.3,196.7 L415.2,198.8 L416.2,200.7 L417.1,202.0 L418.0,202.5 L419.0,202.2 L420.0,201.3 L421.0,200.1 L422.0,198.6 L423.0,197.0 L424.0,194.6 L425.0,191.0 L426.0,186.8 L427.0,182.5 L428.0,178.7 L429.0,176.0 L430.0,175.0 L431.0,175.3 L432.0,176.3 L433.0,177.5 L434.0,179.0 L435.0,181.3 L436.0,184.7 L437.0,188.5 L438.0,192.2 L439.0,195.0 L440.0,197.2 L441.0,199.4 L442.0,201.2 L443.0,202.5 L444.0,203.0 L445.0,202.2 L446.0,199.9 L447.0,196.6 L448.0,192.8 L449.0,188.8 L450.0,185.0 L451.0,180.6 L452.0,175.3 L453.0,170.0 L454.0,165.9 L455.0,164.0 L456.0,163.7 L457.0,163.4 L458.0,163.2 L459.0,163.0 L460.0,163.0 L461.0,163.7 L462.0,165.3 L463.0,167.0 L464.0,168.0 L465.0,168.2 L466.0,168.4 L467.0,168.5 L468.0,168.6 L469.0,168.8 L470.0,169.0 L471.0,169.6 L472.0,170.7 L473.0,172.3 L474.0,174.0 L475.0,176.0 L476.0,179.1 L477.0,183.5 L478.0,187.3 L479.0,189.0 L480.0,189.0 L481.0,189.0 L482.0,189.0 L483.0,189.0 L484.0,189.0 L485.0,189.0 L486.0,188.3 L487.0,186.5 L488.0,184.5 L489.0,182.7 L490.0,182.0 L491.0,182.2 L492.0,182.7 L493.0,183.5 L494.0,184.6 L495.0,185.8 L496.0,187.1 L497.0,188.6 L498.0,190.0 L499.0,191.9 L500.0,194.5 L501.0,197.5 L502.0,200.8 L503.0,203.9 L504.0,206.7 L505.0,208.8 L506.0,210.0 L507.0,210.6 L508.0,211.2 L509.0,211.7 L510.0,212.2 L511.0,212.5 L512.0,212.8 L513.0,212.9 L514.0,213.0 L515.0,213.0 L516.0,213.0 L517.0,213.0 L518.0,213.0 L519.0,213.0 L520.0,213.4 L521.0,214.4 L522.0,215.9 L523.0,217.6 L524.0,219.4 L525.0,221.1 L526.0,222.6 L527.0,223.6 L528.0,224.0 L529.0,223.9 L530.0,223.8 L531.0,223.6 L532.0,223.3 L533.0,223.0 L534.0,222.7 L535.0,222.4 L536.0,222.2 L537.0,222.1 L538.0,222.0 L539.0,222.1 L540.0,222.2 L541.0,222.4 L542.0,222.7 L543.0,223.0 L544.0,223.3 L545.0,223.6 L546.0,223.8 L547.0,223.9 L548.0,224.0 L549.0,223.9 L550.0,223.5 L551.0,223.1 L552.0,222.5 L553.0,221.9 L554.0,221.5 L555.0,221.1 L556.0,221.0 L557.0,221.0 L558.0,221.0 L559.0,221.0 L560.0,221.0 L561.0,221.0 L562.0,221.0 L563.0,221.0 L564.0,221.0 L565.0,221.0 L566.0,221.0 L567.0,221.0 L568.0,220.8 L569.0,220.7 L570.0,220.5 L571.0,220.3 L572.0,220.2 L573.0,220.0 L574.0,220.0 L575.0,220.2 L576.0,220.6 L577.0,221.4 L578.0,222.3 L579.0,223.3 L580.0,224.4 L581.0,225.6 L582.0,226.7 L583.0,227.7 L584.0,228.6 L585.0,229.4 L586.0,229.8 L587.0,230.0 L588.0,229.4 L589.0,228.2 L590.0,227.0 L591.0,225.9 L592.0,224.6 L593.0,223.3 L594.0,222.0 L595.0,220.8 L596.0,219.9 L597.0,219.2 L598.0,219.0 L599.0,219.2 L600.0,219.8 L601.0,220.6 L602.0,221.5 L603.0,222.4 L604.0,223.2 L605.0,223.8 L606.0,224.0 L607.0,223.4 L608.0,221.8 L609.0,219.7 L610.0,217.2 L611.0,214.9 L612.0,213.0 L613.0,211.3 L614.0,209.6 L615.0,207.8 L616.0,206.4 L617.0,205.4 L618.0,205.0 L619.0,205.5 L620.0,206.7 L621.0,208.4 L622.0,210.3 L623.0,212.3 L624.0,214.0 L625.0,215.7 L626.0,217.7 L627.0,219.6 L628.0,221.3 L629.0,222.5 L630.0,223.0 L631.0,223.0 L632.0,223.0 L633.0,223.0 L634.0,223.0 L635.0,223.0 L636.0,223.0 L637.0,222.4 L638.0,220.7 L639.0,218.1 L640.0,215.0 L641.0,211.6 L642.0,208.0 L643.0,203.3 L644.0,197.2 L645.0,191.0 L646.0,186.0 L647.0,182.1 L648.0,178.6 L649.0,175.7 L650.0,174.0 L651.0,173.0 L652.0,172.2 L653.0,171.4 L654.0,170.8 L655.0,170.4 L656.0,170.1 L657.0,170.0 L658.0,170.3 L659.0,171.1 L660.0,172.2 L661.0,173.6 L662.0,175.0 L663.0,176.9 L664.0,179.3 L665.0,181.9 L666.0,184.0 L667.0,185.8 L668.0,187.7 L669.0,189.4 L670.0,190.6 L671.0,191.0 L672.0,190.4 L673.0,189.0 L674.0,186.9 L675.0,184.5 L676.0,182.1 L677.0,180.0 L678.0,178.0 L679.0,175.9 L680.0,173.8 L681.0,172.1 L682.0,171.0 L683.0,170.3 L684.0,169.6 L685.0,169.0 L686.0,168.4 L687.0,167.9 L688.0,167.5 L689.0,167.2 L690.0,167.1 L691.0,167.0 L692.0,167.5 L693.0,168.8 L694.0,170.5 L695.0,172.4 L696.0,174.0 L697.0,175.6 L698.0,177.5 L699.0,179.2 L700.0,180.5 L701.0,181.0 L702.0,181.0 L703.0,180.9 L704.0,180.8 L705.0,180.6 L706.0,180.5 L707.0,180.2 L708.0,180.0 L709.0,179.5 L710.0,178.7 L711.0,177.6 L712.0,176.3 L713.0,175.1 L714.0,174.0 L715.0,172.9 L716.0,171.6 L717.0,170.2 L718.0,169.1 L719.0,168.3 L720.0,168.0 L721.0,168.4 L722.0,169.3 L723.0,170.6 L724.0,172.0 L725.0,173.2 L726.0,174.0 L727.0,174.5 L728.0,175.0 L729.0,175.4 L730.0,175.7 L731.0,175.9 L732.0,176.0 L733.0,175.7 L734.0,175.3 L735.0,175.0 L736.0,175.3 L737.0,176.1 L738.0,177.3 L739.0,178.8 L740.0,180.2 L741.0,181.7 L742.0,182.9 L743.0,183.7 L744.0,184.0 L745.0,183.8 L746.0,183.2 L747.0,182.3 L748.0,181.2 L749.0,180.0 L750.0,177.9 L751.0,174.9 L752.0,172.0 L753.0,169.2 L754.0,166.3 L755.0,163.3 L756.0,160.7 L757.0,158.5 L758.0,157.0 L759.0,156.0 L760.0,155.0 L761.0,154.2 L762.0,153.6 L763.0,153.2 L764.0,153.0 L765.0,153.1 L766.0,153.3 L767.0,153.6 L768.0,154.0 L769.0,154.5 L770.0,155.0 L771.0,155.9 L772.0,157.3 L773.0,159.1 L774.0,161.0 L775.0,162.7 L776.0,164.0 L777.0,165.0 L778.0,165.8 L779.0,166.5 L780.0,167.2 L781.0,168.0 L782.0,169.0 L783.0,170.2 L784.0,171.7 L785.0,173.3 L786.0,175.1 L787.0,176.9 L788.0,178.7 L789.0,180.4 L790.0,182.0 L791.0,183.7 L792.0,185.5 L793.0,187.4 L794.0,189.2 L795.0,190.6 L796.0,191.6 L797.0,192.0 L798.0,191.5 L799.0,190.4 L800.0,189.1 L801.0,187.8 L802.0,187.0 L803.0,186.6 L804.0,186.2 L805.0,185.9 L806.0,185.6 L807.0,185.3 L808.0,185.2 L809.0,185.0 L810.0,185.0 L811.0,185.2 L812.0,185.8 L813.0,186.5 L814.0,187.2 L815.0,187.8 L816.0,188.0 L817.0,187.4 L818.0,185.9 L819.0,183.8 L820.0,181.5 L821.0,179.5 L822.0,178.0 L823.0,177.0 L824.0,176.0 L825.0,175.1 L826.0,174.3 L827.0,173.6 L828.0,172.9 L829.0,172.4 L830.0,172.0 L831.0,171.7 L832.0,171.5 L833.0,171.3 L834.0,171.0 L835.0,170.0 L836.0,168.2 L837.0,166.3 L838.0,164.7 L839.0,164.0 L840.0,164.3 L841.0,165.0 L842.0,165.9 L843.0,167.0 L844.0,168.0 L845.0,169.2 L846.0,170.7 L847.0,172.2 L848.0,173.6 L849.0,174.6 L850.0,175.0 L851.0,174.9 L852.0,174.6 L853.0,174.2 L854.0,173.8 L855.0,173.4 L856.0,173.1 L857.0,173.0 L858.0,173.2 L859.0,173.8 L860.0,174.7 L861.0,175.7 L862.0,176.9 L863.0,178.0 L864.0,179.0 L865.0,180.0 L866.0,181.1 L867.0,182.2 L868.0,183.3 L869.0,184.2 L870.0,185.0 L871.0,185.7 L872.0,186.3 L873.0,186.9 L874.0,187.4 L875.0,187.9 L876.0,188.4 L877.0,188.7 L878.0,189.0 L879.0,189.2 L880.0,189.5 L881.0,189.7 L882.0,189.8 L883.0,190.0 L884.0,190.0 L885.0,189.9 L886.0,189.6 L887.0,189.1 L888.0,188.6 L889.0,188.0 L890.0,187.1 L891.0,185.9 L892.0,184.5 L893.0,183.1 L894.0,182.0 L895.0,181.1 L896.0,180.4 L897.0,179.7 L898.0,179.0 L899.0,178.3 L900.0,177.6 L901.0,176.9 L902.0,176.0 L903.0,175.1 L904.0,174.1 L905.0,173.0 L906.0,171.6 L907.0,170.0 L908.0,167.4 L909.0,163.5 L910.0,159.2 L911.0,155.1 L912.0,152.0 L913.0,149.5 L914.0,147.1 L915.0,144.7 L916.0,142.6 L917.0,140.7 L918.0,139.3 L919.0,138.3 L920.0,138.0 L921.0,138.3 L922.0,139.1 L923.0,140.2 L924.0,141.6 L925.0,143.2 L926.0,144.7 L927.0,146.0 L928.0,147.2 L929.0,148.4 L930.0,149.7 L931.0,151.0 L932.0,152.4 L933.0,154.0 L934.0,155.8 L935.0,157.8 L936.0,160.1 L937.0,162.5 L938.0,164.9 L939.0,167.5 L940.0,170.0 L941.0,172.8 L942.0,176.0 L943.0,179.2 L944.0,182.0 L945.0,184.0 L946.0,185.4 L947.0,186.7 L948.0,187.8 L949.0,188.6 L950.0,189.0 L951.0,189.2 L952.0,189.4 L953.0,189.6 L954.0,189.7 L955.0,189.8 L956.0,189.9 L957.0,190.0 L958.0,190.0 L959.0,189.9 L960.0,189.5 L961.0,189.1 L962.0,188.5 L963.0,188.0 L964.0,187.5 L965.0,187.0 L966.0,186.5 L967.0,185.9 L968.0,185.3 L969.0,184.8 L970.0,184.4 L971.0,184.1 L972.0,184.0 L973.0,184.1 L974.0,184.5 L975.0,185.0 L976.0,185.7 L977.0,186.4 L978.0,187.2 L979.0,188.0 L980.0,189.0 L981.0,190.4 L982.0,191.8 L983.0,193.2 L984.0,194.1 L985.0,194.5 L986.0,194.2 L987.0,193.4 L988.0,192.4 L989.0,191.5 L990.0,191.0 L991.0,190.7 L992.0,190.5 L993.0,190.3 L994.0,190.1 L995.0,190.0 L996.0,190.0 L997.0,190.2 L998.0,190.8 L999.0,191.7 L1000.0,192.7 L1001.0,193.7 L1002.0,194.5 L1003.0,195.3 L1004.0,196.3 L1005.0,197.2 L1006.0,198.1 L1007.0,198.9 L1008.0,199.4 L1009.0,199.6 L1010.0,199.3 L1011.0,198.7 L1012.0,197.8 L1013.0,196.8 L1014.0,196.0 L1015.0,195.2 L1016.0,194.3 L1017.0,193.5 L1018.0,192.7 L1019.0,192.2 L1020.0,192.0 L1021.0,192.1 L1022.0,192.4 L1023.0,192.7 L1024.0,193.2 L1025.0,193.6 L1026.0,194.0 L1027.0,194.3 L1028.0,194.5 L1029.0,194.6 L1030.0,194.6 L1031.0,194.7 L1032.0,194.7 L1033.0,194.7 L1034.0,194.8 L1035.0,194.8 L1036.0,194.8 L1037.0,194.9 L1038.0,195.0 L1039.0,195.3 L1040.0,195.8 L1041.0,196.5 L1042.0,197.3 L1043.0,198.0 L1044.0,198.7 L1045.0,199.6 L1046.0,200.5 L1047.0,201.2 L1048.0,201.8 L1049.0,202.0 L1050.0,201.8 L1051.0,201.4 L1052.0,200.7 L1053.0,199.8 L1054.0,198.9 L1055.0,197.9 L1056.0,197.0 L1057.0,195.9 L1058.0,194.6 L1059.0,193.2 L1060.0,191.9 L1061.0,190.7 L1062.0,190.0 L1063.0,189.6 L1064.0,189.2 L1065.0,188.9 L1066.0,188.7 L1067.0,188.4 L1068.0,188.2 L1069.0,187.9 L1070.0,187.6 L1071.0,187.2 L1072.0,186.6 L1073.0,186.0 L1074.0,185.5 L1075.0,185.1 L1076.0,185.0 L1077.0,185.0 L1078.0,185.1 L1079.0,185.3 L1080.0,185.5 L1081.0,185.7 L1082.0,186.0 L1083.0,186.5 L1084.0,187.3 L1085.0,188.4 L1086.0,189.6 L1087.0,190.8 L1088.0,192.0 L1089.0,193.3 L1090.0,194.8 L1091.0,196.4 L1092.0,198.0 L1093.0,199.3 L1094.0,200.2 L1095.0,200.5 L1096.0,200.2 L1097.0,199.5 L1098.0,198.4 L1099.0,197.2 L1100.0,196.0 L1101.0,194.6 L1102.0,192.7 L1103.0,190.6 L1104.0,188.4 L1105.0,186.3 L1106.0,184.6 L1107.0,183.4 L1108.0,183.0 L1109.0,183.0 L1110.0,183.1 L1111.0,183.3 L1112.0,183.5 L1113.0,184.1 L1114.0,185.1 L1115.0,186.4 L1116.0,187.7 L1117.0,188.6 L1118.0,189.0 L1119.0,188.9 L1120.0,188.6 L1121.0,188.1 L1122.0,187.6 L1123.0,186.9 L1124.0,186.2 L1125.0,185.6 L1126.0,185.0 L1127.0,184.4 L1128.0,183.6 L1129.0,182.8 L1130.0,181.9 L1131.0,181.2 L1132.0,180.6 L1133.0,180.2 L1134.0,180.0 L1135.0,180.2 L1136.0,180.9 L1137.0,181.8 L1138.0,182.9 L1139.0,184.0 L1140.0,185.5 L1141.0,187.5 L1142.0,189.7 L1143.0,192.0 L1144.0,194.0 L1145.1,196.3 L1146.2,198.8 L1147.4,200.7 L1148.5,201.5 L1149.6,201.1 L1150.8,199.9 L1151.9,198.1 L1153.0,196.0 L1154.0,192.7 L1155.0,187.4 L1156.0,181.5 L1157.0,176.0 L1158.0,170.9 L1159.0,165.8 L1160.0,162.0 L1161.0,159.1 L1162.0,156.6 L1163.0,154.7 L1164.0,154.0 L1165.0,154.8 L1166.0,156.8 L1167.0,159.4 L1168.0,162.0 L1169.0,164.7 L1170.0,167.9 L1171.0,171.1 L1172.0,174.0 L1173.0,176.7 L1174.0,179.3 L1175.0,181.5 L1176.0,183.0 L1177.0,183.9 L1178.0,184.7 L1179.0,185.3 L1180.0,185.8 L1181.0,186.4 L1182.0,187.0" fill="none" stroke="#5794F2" stroke-width="2" stroke-linejoin="round"/>
<path d="M72.0,226.0 L73.0,227.2 L74.0,228.3 L75.0,229.5 L76.0,230.7 L77.0,231.8 L78.0,233.0 L79.0,234.1 L80.0,235.1 L81.0,236.1 L82.0,237.1 L83.0,238.4 L84.0,240.0 L85.0,242.7 L86.0,246.8 L87.0,251.9 L88.0,257.2 L89.0,262.4 L90.0,266.8 L91.0,269.9 L92.0,271.0 L93.0,270.8 L94.0,270.2 L95.0,269.4 L96.0,268.5 L97.0,267.6 L98.0,266.8 L99.0,266.2 L100.0,266.0 L101.0,266.1 L102.0,266.2 L103.0,266.5 L104.0,266.8 L105.0,267.1 L106.0,267.4 L107.0,267.5 L108.0,267.6 L109.0,267.4 L110.0,266.8 L111.0,266.0 L112.0,264.9 L113.0,263.7 L114.0,262.4 L115.0,261.2 L116.0,260.0 L117.0,258.9 L118.0,257.7 L119.0,256.5 L120.0,255.2 L121.0,253.9 L122.0,252.6 L123.0,251.3 L124.0,250.0 L125.0,248.6 L126.0,247.0 L127.0,245.3 L128.0,243.6 L129.0,241.9 L130.0,240.4 L131.0,239.0 L132.0,237.9 L133.0,237.2 L134.0,237.0 L135.0,237.0 L136.0,237.1 L137.0,237.3 L138.0,237.5 L139.0,237.7 L140.0,238.0 L141.0,238.8 L142.0,240.3 L143.0,242.0 L144.0,243.4 L145.0,244.0 L146.0,243.0 L147.0,240.5 L148.0,237.5 L149.0,235.0 L150.0,234.0 L151.0,234.2 L152.0,234.6 L153.0,235.2 L154.0,236.1 L155.0,237.0 L156.0,238.0 L157.0,239.7 L158.0,242.3 L159.0,245.3 L160.0,248.1 L161.0,250.2 L162.0,251.0 L163.0,250.8 L164.0,250.2 L165.0,249.4 L166.0,248.4 L167.0,247.2 L168.0,246.1 L169.0,245.0 L170.0,244.0 L171.0,243.1 L172.0,242.1 L173.0,241.0 L174.0,240.0 L175.0,239.1 L176.0,238.2 L177.0,237.5 L178.0,237.0 L179.0,236.6 L180.0,236.3 L181.0,236.1 L182.0,235.9 L183.0,235.6 L184.0,235.4 L185.0,235.2 L186.0,235.0 L187.0,234.7 L188.0,234.4 L189.0,234.1 L190.0,233.9 L191.0,233.7 L192.0,233.6 L193.0,234.2 L194.0,235.5 L195.0,237.1 L196.0,238.4 L197.0,239.0 L198.0,238.0 L199.0,235.7 L200.0,233.0 L201.0,229.8 L202.0,225.7 L203.0,221.1 L204.0,216.3 L205.0,211.8 L206.0,208.0 L207.0,204.3 L208.0,200.7 L209.0,197.8 L210.0,196.5 L211.0,196.4 L212.0,196.3 L213.0,196.2 L214.0,196.2 L215.0,196.1 L216.0,196.0 L217.0,195.1 L218.0,193.3 L219.0,191.0 L220.0,189.0 L221.0,187.1 L222.0,185.2 L223.0,183.4 L224.0,182.0 L225.0,180.9 L226.0,180.0 L227.0,179.3 L228.0,179.0 L229.0,179.5 L230.0,180.5 L231.0,181.0 L232.0,180.8 L233.0,180.2 L234.0,179.3 L235.0,178.2 L236.0,177.0 L237.0,174.9 L238.0,171.8 L239.0,168.6 L240.0,166.0 L241.0,164.1 L242.0,162.4 L243.0,161.0 L244.0,160.0 L245.0,159.3 L246.0,158.6 L247.0,158.2 L248.0,158.0 L249.0,159.5 L250.0,162.0 L251.0,164.1 L252.0,166.1 L253.0,167.0 L254.0,165.6 L255.0,162.5 L256.0,159.4 L257.0,158.0 L258.0,158.6 L259.0,160.0 L260.0,161.4 L261.0,162.0 L262.0,162.0 L263.0,162.0 L264.0,162.0 L265.0,162.0 L266.0,162.8 L267.0,164.2 L268.0,165.0 L269.0,164.3 L270.0,162.4 L271.0,160.0 L272.0,157.6 L273.0,155.7 L274.0,155.0 L275.0,155.1 L276.0,155.4 L277.0,155.9 L278.0,156.4 L279.0,157.0 L280.0,157.7 L281.0,158.8 L282.0,159.9 L283.0,160.9 L284.0,161.7 L285.0,162.0 L286.0,161.1 L287.0,159.0 L288.0,156.9 L289.0,156.0 L290.0,156.3 L291.0,157.0 L292.0,158.0 L293.0,159.0 L294.0,160.3 L295.0,162.0 L296.0,163.4 L297.0,164.0 L298.0,163.6 L299.0,162.6 L300.0,161.2 L301.0,159.6 L302.0,158.0 L303.0,156.1 L304.0,153.6 L305.0,150.9 L306.0,148.4 L307.0,146.7 L308.0,146.0 L309.0,147.3 L310.0,149.7 L311.0,151.0 L312.0,150.1 L313.0,147.8 L314.0,145.2 L315.0,142.9 L316.0,142.0 L317.0,142.3 L318.0,143.0 L319.0,143.7 L320.0,144.0 L321.0,143.3 L322.0,141.7 L323.0,139.5 L324.0,137.5 L325.0,136.0 L326.0,135.2 L327.0,134.6 L328.0,133.9 L329.0,133.0 L330.0,130.9 L331.0,128.3 L332.0,127.0 L333.0,127.2 L334.0,127.6 L335.0,128.2 L336.0,129.0 L337.0,130.2 L338.0,132.0 L339.0,134.0 L340.0,136.0 L341.0,138.1 L342.0,140.4 L343.0,142.4 L344.0,144.0 L345.0,145.0 L346.0,145.7 L347.0,146.4 L348.0,147.1 L349.0,148.0 L350.0,149.2 L351.0,150.8 L352.0,152.4 L353.0,154.0 L354.0,155.4 L355.0,156.9 L356.0,158.3 L357.0,160.0 L358.0,162.0 L359.0,164.2 L360.0,166.6 L361.0,168.9 L362.0,171.0 L363.0,172.9 L364.0,174.7 L365.0,176.4 L366.0,178.0 L367.0,179.7 L368.0,181.3 L369.0,183.0 L370.0,184.9 L371.0,187.1 L372.0,189.4 L373.0,191.5 L374.0,193.3 L375.0,194.5 L376.0,195.0 L377.0,194.1 L378.0,192.1 L379.0,189.8 L380.0,188.0 L381.0,186.8 L382.0,185.7 L383.0,184.8 L384.0,183.9 L385.0,183.0 L386.0,182.2 L386.9,181.4 L387.9,180.7 L388.8,180.0 L389.8,179.3 L390.7,178.4 L391.7,177.5 L392.8,176.1 L393.8,174.2 L394.9,172.3 L395.9,170.4 L396.9,168.9 L398.0,168.0 L398.9,167.6 L399.9,167.3 L400.8,167.1 L401.7,167.0 L402.7,167.6 L403.7,169.1 L404.7,170.9 L405.7,172.4 L406.7,173.0 L407.8,172.0 L408.9,170.0 L410.0,169.0 L411.0,170.2 L412.0,173.0 L413.0,176.6 L414.0,180.1 L415.0,182.5 L416.0,184.1 L417.0,185.4 L418.0,186.0 L419.1,185.6 L420.2,184.5 L421.4,182.9 L422.5,181.0 L423.5,178.2 L424.5,174.0 L425.5,169.0 L426.5,164.1 L427.5,160.0 L428.4,156.8 L429.2,153.5 L430.1,151.0 L431.0,150.0 L432.0,150.8 L433.0,152.8 L434.0,155.4 L435.0,158.0 L436.0,160.4 L437.0,163.0 L438.0,165.8 L439.0,169.0 L440.0,173.4 L441.0,179.2 L442.0,184.9 L443.0,189.2 L444.0,191.0 L445.0,189.7 L446.0,186.5 L447.0,182.2 L448.0,178.0 L449.0,173.4 L450.0,167.8 L451.0,162.0 L452.0,156.8 L453.0,153.0 L454.0,150.1 L455.0,147.4 L456.0,145.1 L457.0,143.6 L458.0,143.0 L459.0,143.8 L460.0,145.7 L461.0,148.1 L462.0,150.4 L463.0,152.0 L464.0,152.9 L465.0,153.6 L466.0,154.2 L467.0,154.8 L468.0,155.4 L469.0,156.1 L470.0,157.0 L471.0,158.2 L472.0,159.8 L473.0,161.6 L474.0,163.6 L475.0,165.8 L476.0,168.0 L477.0,171.0 L478.0,174.6 L479.0,177.7 L480.0,179.0 L481.0,179.0 L482.0,178.9 L483.0,178.7 L484.0,178.5 L485.0,178.3 L486.0,178.0 L487.0,176.6 L488.0,173.8 L489.0,171.2 L490.0,170.0 L491.0,170.8 L492.0,172.6 L493.0,175.0 L494.0,177.4 L495.0,179.0 L496.0,180.0 L497.0,180.7 L498.0,181.4 L499.0,182.1 L500.0,183.0 L501.0,184.0 L502.0,185.0 L503.0,186.1 L504.0,187.3 L505.0,188.6 L506.0,189.9 L507.0,191.4 L508.0,193.0 L509.0,195.2 L510.0,198.1 L511.0,201.2 L512.0,204.1 L513.0,206.2 L514.0,207.0 L515.0,206.9 L516.0,206.6 L517.0,206.4 L518.0,206.1 L519.0,206.0 L520.0,206.4 L521.0,207.6 L522.0,209.1 L523.0,210.7 L524.0,212.0 L525.0,213.2 L526.0,214.5 L527.0,215.8 L528.0,216.9 L529.0,217.7 L530.0,218.0 L531.0,217.8 L532.0,217.2 L533.0,216.3 L534.0,215.2 L535.0,214.0 L536.0,212.8 L537.0,211.7 L538.0,210.8 L539.0,210.2 L540.0,210.0 L541.0,210.1 L542.0,210.5 L543.0,210.9 L544.0,211.5 L545.0,212.1 L546.0,212.5 L547.0,212.9 L548.0,213.0 L549.0,212.7 L550.0,212.0 L551.0,210.8 L552.0,209.5 L553.0,208.0 L554.0,206.5 L555.0,205.2 L556.0,204.0 L557.0,203.3 L558.0,203.0 L559.0,203.2 L560.0,203.9 L561.0,204.8 L562.0,205.8 L563.0,206.9 L564.0,208.0 L565.0,209.3 L566.0,210.8 L567.0,212.4 L568.0,213.5 L569.0,214.0 L570.0,213.3 L571.0,211.7 L572.0,209.5 L573.0,207.3 L574.0,205.7 L575.0,205.0 L576.0,205.4 L577.0,206.3 L578.0,207.6 L579.0,208.9 L580.0,210.0 L581.0,210.9 L582.0,211.9 L583.0,212.9 L584.0,213.9 L585.0,214.7 L586.0,215.4 L587.0,215.8 L588.0,216.0 L589.0,215.2 L590.0,213.2 L591.0,210.5 L592.0,207.5 L593.0,204.8 L594.0,202.8 L595.0,202.0 L596.0,202.2 L597.0,202.6 L598.0,203.3 L599.0,204.2 L600.0,205.1 L601.0,206.1 L602.0,207.0 L603.0,208.1 L604.0,209.4 L605.0,210.5 L606.0,211.0 L607.0,210.1 L608.0,207.6 L609.0,204.2 L610.0,200.5 L611.0,197.0 L612.0,194.3 L613.0,193.0 L614.0,192.6 L615.0,192.3 L616.0,192.1 L617.0,192.0 L618.0,192.2 L619.0,192.9 L620.0,193.8 L621.0,194.9 L622.0,196.0 L623.0,197.5 L624.0,199.5 L625.0,201.8 L626.0,204.1 L627.0,206.1 L628.0,207.5 L629.0,208.0 L630.0,207.8 L631.0,207.4 L632.0,206.7 L633.0,205.9 L634.0,205.0 L635.0,203.7 L636.0,201.9 L637.0,199.7 L638.0,197.2 L639.0,194.6 L640.0,192.0 L641.0,189.4 L642.0,186.5 L643.0,183.4 L644.0,180.0 L645.0,175.8 L646.0,170.8 L647.0,165.9 L648.0,162.0 L649.0,158.8 L650.0,155.8 L651.0,153.4 L652.0,152.0 L653.0,151.2 L654.0,150.6 L655.0,150.2 L656.0,150.0 L657.0,150.3 L658.0,151.2 L659.0,152.4 L660.0,153.9 L661.0,155.5 L662.0,157.0 L663.0,158.5 L664.0,160.2 L665.0,162.0 L666.0,164.0 L667.0,166.7 L668.0,170.0 L669.0,172.8 L670.0,174.0 L671.0,173.7 L672.0,172.9 L673.0,171.6 L674.0,170.0 L675.0,168.1 L676.0,166.0 L677.0,162.1 L678.0,156.1 L679.0,150.0 L680.0,146.0 L681.0,143.8 L682.0,141.8 L683.0,140.5 L684.0,140.0 L685.0,140.1 L686.0,140.6 L687.0,141.2 L688.0,142.0 L689.0,142.9 L690.0,144.0 L691.0,146.0 L692.0,149.1 L693.0,152.2 L694.0,154.0 L695.0,154.8 L696.0,155.6 L697.0,156.2 L698.0,156.6 L699.0,156.9 L700.0,157.0 L701.0,156.8 L702.0,156.3 L703.0,155.7 L704.0,155.2 L705.0,155.0 L706.0,155.5 L707.0,156.8 L708.0,158.2 L709.0,159.5 L710.0,160.0 L711.0,159.9 L712.0,159.4 L713.0,158.8 L714.0,158.0 L715.0,155.4 L716.0,151.4 L717.0,149.0 L718.0,148.4 L719.0,147.9 L720.0,147.5 L721.0,147.2 L722.0,147.1 L723.0,147.0 L724.0,148.2 L725.0,151.0 L726.0,153.8 L727.0,155.0 L728.0,155.0 L729.0,155.0 L730.0,155.0 L731.0,155.0 L732.0,155.0 L733.0,155.0 L734.0,155.0 L735.0,155.0 L736.0,155.0 L737.0,155.0 L738.0,155.5 L739.0,156.6 L740.0,158.0 L741.0,159.2 L742.0,160.0 L743.0,160.4 L744.0,160.7 L745.0,160.9 L746.0,161.0 L747.0,160.5 L748.0,159.2 L749.0,157.3 L750.0,155.0 L751.0,152.5 L752.0,150.0 L753.0,147.2 L754.0,143.8 L755.0,140.1 L756.0,136.3 L757.0,132.9 L758.0,130.0 L759.0,127.7 L760.0,125.6 L761.0,123.8 L762.0,122.0 L763.0,120.1 L764.0,118.1 L765.0,116.6 L766.0,116.0 L767.0,116.4 L768.0,117.3 L769.0,118.6 L770.0,120.0 L771.0,121.9 L772.0,124.5 L773.0,127.3 L774.0,130.0 L775.0,132.5 L776.0,135.1 L777.0,137.6 L778.0,140.0 L779.0,142.2 L780.0,144.0 L781.0,145.4 L782.0,146.5 L783.0,147.6 L784.0,149.0 L785.0,151.1 L786.0,153.9 L787.0,156.9 L788.0,159.7 L789.0,162.0 L790.0,163.7 L791.0,165.1 L792.0,166.4 L793.0,168.0 L794.0,170.3 L795.0,172.8 L796.0,174.0 L797.0,173.0 L798.0,170.5 L799.0,167.9 L800.0,166.0 L801.0,165.0 L802.0,164.2 L803.0,163.6 L804.0,163.0 L805.0,162.5 L806.0,161.9 L807.0,161.5 L808.0,161.1 L809.0,161.0 L810.0,161.2 L811.0,161.6 L812.0,162.2 L813.0,162.8 L814.0,163.4 L815.0,163.8 L816.0,164.0 L817.0,163.3 L818.0,161.7 L819.0,159.7 L820.0,158.0 L821.0,156.7 L822.0,155.3 L823.0,154.0 L824.0,152.8 L825.0,151.8 L826.0,151.0 L827.0,150.3 L828.0,149.6 L829.0,149.0 L830.0,148.5 L831.0,148.1 L832.0,148.0 L833.0,148.0 L834.0,148.0 L835.0,148.0 L836.0,148.0 L837.0,148.0 L838.0,148.0 L839.0,148.0 L840.0,148.0 L841.0,148.0 L842.0,148.0 L843.0,148.3 L844.0,149.2 L845.0,150.4 L846.0,151.6 L847.0,152.8 L848.0,153.7 L849.0,154.0 L850.0,153.5 L851.0,152.2 L852.0,150.8 L853.0,149.5 L854.0,149.0 L855.0,149.0 L856.0,149.0 L857.0,149.0 L858.0,149.0 L859.0,149.0 L860.0,149.0 L861.0,149.0 L862.0,149.7 L863.0,151.5 L864.0,153.9 L865.0,156.2 L866.0,158.0 L867.0,159.2 L868.0,160.2 L869.0,161.1 L870.0,162.0 L871.0,162.9 L872.0,164.0 L873.0,165.2 L874.0,166.5 L875.0,167.8 L876.0,169.2 L877.0,170.6 L878.0,172.0 L879.0,173.6 L880.0,175.4 L881.0,177.2 L882.0,178.5 L883.0,179.0 L884.0,178.6 L885.0,177.5 L886.0,176.1 L887.0,174.5 L888.0,173.1 L889.0,172.0 L890.0,171.3 L891.0,170.7 L892.0,170.1 L893.0,169.6 L894.0,169.1 L895.0,168.5 L896.0,168.0 L897.0,167.5 L898.0,167.0 L899.0,166.5 L900.0,166.0 L901.0,165.5 L902.0,164.8 L903.0,164.0 L904.0,162.9 L905.0,161.3 L906.0,159.4 L907.0,157.3 L908.0,155.0 L909.0,152.1 L910.0,148.5 L911.0,144.6 L912.0,141.3 L913.0,139.0 L914.0,137.7 L915.0,136.6 L916.0,135.8 L917.0,135.0 L918.0,134.1 L919.0,133.0 L920.0,131.1 L921.0,129.0 L922.0,128.0 L923.0,129.2 L924.0,132.0 L925.0,134.8 L926.0,136.0 L927.0,135.7 L928.0,135.0 L929.0,134.3 L930.0,134.0 L931.0,134.8 L932.0,136.7 L933.0,139.3 L934.0,142.0 L935.0,144.9 L936.0,148.5 L937.0,152.4 L938.0,156.3 L939.0,160.0 L940.0,163.9 L941.0,168.2 L942.0,172.2 L943.0,175.4 L944.0,177.0 L945.0,177.5 L946.0,177.9 L947.0,178.3 L948.0,178.5 L949.0,178.7 L950.0,179.0 L951.0,179.3 L952.0,179.6 L953.0,180.0 L954.0,180.3 L955.0,180.6 L956.0,180.8 L957.0,180.9 L958.0,181.0 L959.0,181.0 L960.0,180.9 L961.0,180.7 L962.0,180.5 L963.0,180.3 L964.0,180.0 L965.0,179.6 L966.0,178.9 L967.0,178.1 L968.0,177.3 L969.0,176.7 L970.0,176.5 L971.0,176.6 L972.0,176.9 L973.0,177.4 L974.0,178.0 L975.0,178.7 L976.0,179.5 L977.0,180.3 L978.0,181.2 L979.0,182.1 L980.0,183.0 L981.0,184.2 L982.0,185.7 L983.0,187.3 L984.0,188.5 L985.0,189.0 L986.0,188.5 L987.0,187.1 L988.0,185.3 L989.0,183.3 L990.0,181.5 L991.0,179.5 L992.0,177.2 L993.0,175.3 L994.0,174.5 L995.0,174.5 L996.0,174.6 L997.0,174.7 L998.0,174.8 L999.0,175.0 L1000.0,176.2 L1001.0,178.9 L1002.0,181.8 L1003.0,184.0 L1004.0,185.5 L1005.0,187.0 L1006.0,188.3 L1007.0,189.2 L1008.0,189.5 L1009.0,189.0 L1010.0,187.7 L1011.0,186.1 L1012.0,184.5 L1013.0,182.6 L1014.0,181.0 L1015.0,180.2 L1016.0,179.5 L1017.0,178.9 L1018.0,178.4 L1019.0,178.1 L1020.0,178.0 L1021.0,178.2 L1022.0,178.7 L1023.0,179.4 L1024.0,180.2 L1025.0,181.0 L1026.0,182.3 L1027.0,183.8 L1028.0,184.5 L1029.0,184.4 L1030.0,184.1 L1031.0,183.8 L1032.0,183.4 L1033.0,183.1 L1034.0,183.0 L1035.0,183.1 L1036.0,183.3 L1037.0,183.5 L1038.0,183.7 L1039.0,183.9 L1040.0,184.0 L1041.0,181.8 L1042.0,179.5 L1043.0,180.8 L1044.0,183.3 L1045.0,185.0 L1046.0,185.6 L1047.0,186.1 L1048.0,186.5 L1049.0,186.8 L1050.0,187.0 L1051.0,187.2 L1052.0,187.3 L1053.0,187.5 L1054.0,187.5 L1055.0,186.9 L1056.0,185.5 L1057.0,183.4 L1058.0,180.9 L1059.0,178.5 L1060.0,175.3 L1061.0,171.1 L1062.0,167.4 L1063.0,165.5 L1064.0,165.1 L1065.0,164.8 L1066.0,164.6 L1067.0,164.4 L1068.0,164.0 L1069.0,163.0 L1070.0,161.7 L1071.0,161.0 L1072.0,162.1 L1073.0,164.4 L1074.0,166.5 L1075.0,167.9 L1076.0,169.2 L1077.0,170.4 L1078.0,171.5 L1079.0,172.5 L1080.0,173.3 L1081.0,174.1 L1082.0,174.7 L1083.0,175.4 L1084.0,176.1 L1085.0,177.0 L1086.0,178.4 L1087.0,180.2 L1088.0,182.0 L1089.0,183.4 L1090.0,184.0 L1091.0,183.9 L1092.0,183.8 L1093.0,183.6 L1094.0,183.3 L1095.0,182.9 L1096.0,182.5 L1097.0,181.9 L1098.0,181.1 L1099.0,179.9 L1100.0,178.6 L1101.0,177.0 L1102.0,174.3 L1103.0,170.3 L1104.0,166.6 L1105.0,164.5 L1106.0,163.8 L1107.0,163.3 L1108.0,163.0 L1109.0,162.9 L1110.0,162.8 L1111.0,162.7 L1112.0,162.6 L1113.0,162.5 L1114.0,162.5 L1115.0,162.5 L1116.0,163.8 L1117.0,166.0 L1118.0,168.2 L1119.0,170.5 L1120.0,171.5 L1121.0,170.3 L1122.0,168.2 L1123.0,167.0 L1124.0,167.2 L1125.0,167.5 L1126.0,168.0 L1127.0,168.3 L1128.0,168.5 L1129.0,167.6 L1130.0,165.8 L1131.0,163.9 L1132.0,163.0 L1133.0,163.2 L1134.0,163.5 L1135.0,164.0 L1136.0,164.5 L1137.0,165.2 L1138.0,166.0 L1139.0,167.0 L1140.0,168.3 L1141.0,170.1 L1142.0,172.1 L1143.0,174.0 L1144.0,176.3 L1145.0,178.9 L1146.0,181.1 L1147.0,182.0 L1148.0,181.9 L1149.0,181.5 L1150.0,181.0 L1151.0,178.8 L1152.0,174.6 L1153.0,170.0 L1154.0,165.1 L1155.0,159.6 L1156.0,154.0 L1157.0,148.3 L1158.0,142.7 L1159.0,138.0 L1160.0,134.0 L1161.0,130.5 L1162.0,129.0 L1163.0,129.1 L1164.0,129.5 L1165.0,130.0 L1166.0,130.8 L1167.0,132.2 L1168.0,134.0 L1169.0,137.7 L1170.0,143.1 L1171.0,148.0 L1172.0,152.0 L1173.0,155.6 L1174.0,158.0 L1175.0,159.2 L1176.0,160.0 L1177.0,161.0 L1178.0,163.1 L1179.0,165.7 L1180.0,167.0 L1181.0,166.6 L1182.0,166.0" fill="none" stroke="#FF780A" stroke-width="2" stroke-linejoin="round"/>
<path d="M73.0,206.0 L74.0,206.9 L75.0,208.0 L76.0,211.0 L77.0,215.0 L78.0,217.0 L79.0,214.4 L80.0,209.6 L81.0,207.0 L82.0,210.2 L83.0,217.0 L84.0,223.0 L85.0,226.8 L86.0,229.9 L87.0,232.9 L88.0,236.1 L89.0,240.0 L90.0,246.2 L91.0,254.2 L92.0,261.1 L93.0,264.0 L94.0,261.6 L95.0,257.1 L96.0,254.0 L97.0,253.0 L98.0,252.2 L99.0,251.5 L100.0,251.1 L101.0,251.0 L102.0,251.3 L103.0,252.0 L104.0,253.0 L105.0,254.0 L106.0,255.0 L107.0,255.7 L108.0,256.0 L109.0,255.7 L110.0,254.9 L111.0,253.6 L112.0,252.1 L113.0,250.5 L114.0,248.8 L115.0,247.3 L116.0,246.0 L117.0,245.0 L118.0,244.2 L119.0,243.4 L120.0,242.5 L121.0,241.4 L122.0,240.0 L123.0,237.2 L124.0,232.6 L125.0,226.8 L126.0,220.3 L127.0,213.7 L128.0,207.8 L129.0,203.0 L130.0,200.0 L131.0,198.2 L132.0,196.6 L133.0,195.4 L134.0,195.0 L135.0,195.9 L136.0,198.2 L137.0,201.1 L138.0,204.0 L139.0,207.3 L140.0,211.5 L141.0,216.0 L142.0,220.0 L143.0,222.9 L144.0,224.0 L145.0,221.6 L146.0,215.4 L147.0,207.5 L148.0,199.6 L149.0,193.4 L150.0,191.0 L151.0,191.7 L152.0,193.4 L153.0,196.1 L154.0,199.2 L155.0,202.6 L156.0,206.0 L157.0,210.3 L158.0,216.2 L159.0,222.4 L160.0,228.2 L161.0,232.4 L162.0,234.0 L163.0,233.6 L164.0,232.4 L165.0,230.8 L166.0,229.0 L167.0,227.2 L168.0,225.6 L169.0,224.4 L170.0,224.0 L171.0,229.0 L172.0,234.0 L173.0,232.5 L174.0,229.2 L175.0,225.5 L176.0,223.0 L177.0,221.9 L178.0,221.1 L179.0,220.4 L180.0,219.8 L181.0,219.0 L182.0,218.0 L183.0,216.1 L184.0,213.6 L185.0,211.2 L186.0,210.0 L187.0,209.7 L188.0,209.5 L189.0,209.3 L190.0,209.1 L191.0,209.0 L192.0,209.0 L193.0,210.5 L194.0,213.9 L195.0,218.1 L196.0,221.5 L197.0,223.0 L198.0,222.5 L199.0,221.2 L200.0,219.0 L201.0,216.0 L202.0,203.2 L203.0,189.0 L204.0,183.8 L205.0,180.2 L206.0,177.2 L207.0,174.0 L208.0,169.8 L209.0,165.2 L210.0,161.5 L211.0,160.0 L212.0,161.3 L213.0,164.0 L213.9,168.7 L214.7,174.9 L215.6,178.0 L216.7,176.3 L217.8,172.5 L218.9,168.7 L220.0,167.0 L221.0,168.8 L222.0,172.2 L223.0,174.0 L224.0,172.0 L225.0,167.5 L226.0,163.0 L227.0,161.0 L228.0,162.0 L229.0,164.0 L230.0,165.0 L231.0,164.9 L232.0,164.5 L233.0,164.0 L234.0,161.1 L235.0,155.8 L236.0,151.0 L237.0,147.8 L238.0,145.1 L239.0,142.0 L240.0,138.1 L241.0,133.6 L242.0,129.4 L243.0,126.0 L244.0,123.2 L245.0,120.7 L246.0,118.8 L247.0,118.0 L248.0,119.7 L249.0,123.0 L250.0,128.6 L251.0,135.6 L252.0,139.0 L253.0,137.6 L254.0,134.3 L255.0,130.0 L256.0,121.9 L257.0,116.0 L258.0,117.6 L259.0,120.4 L260.0,122.0 L261.0,120.0 L262.0,118.0 L263.0,118.1 L264.0,118.5 L265.0,119.0 L266.0,121.1 L267.0,124.3 L268.0,126.0 L269.0,125.1 L270.0,123.0 L271.0,120.9 L272.0,120.0 L273.0,120.5 L274.0,121.6 L275.0,123.0 L276.0,125.0 L277.0,127.7 L278.0,130.8 L279.0,134.0 L280.0,137.4 L281.0,141.0 L282.0,144.0 L282.9,146.3 L283.8,148.6 L284.7,150.3 L285.6,151.0 L286.7,148.1 L287.9,142.9 L289.0,140.0 L290.0,140.5 L291.0,141.7 L292.0,143.0 L293.0,144.8 L294.0,146.0 L295.0,145.3 L296.0,143.7 L297.0,142.0 L298.0,140.5 L299.0,138.6 L300.0,136.0 L301.0,128.8 L302.0,122.0 L303.0,120.5 L304.0,119.0 L305.0,113.8 L306.0,105.9 L307.0,100.0 L308.0,96.7 L309.0,94.1 L310.0,93.0 L311.0,103.0 L312.0,113.0 L312.9,111.6 L313.8,108.5 L314.7,105.4 L315.6,104.0 L316.7,107.2 L317.9,113.7 L319.0,119.0 L320.0,121.8 L321.0,124.1 L322.0,125.0 L323.0,122.1 L324.0,116.6 L325.0,113.0 L326.0,112.3 L327.0,111.9 L328.0,111.0 L329.0,102.1 L330.0,92.0 L331.0,88.7 L332.0,86.2 L333.0,84.6 L334.0,84.0 L335.0,84.4 L336.0,85.5 L337.0,87.0 L338.0,89.9 L339.0,94.0 L340.0,98.6 L341.0,103.9 L342.0,109.0 L343.0,113.0 L344.0,115.9 L345.0,118.2 L346.0,120.0 L347.0,121.2 L348.0,122.1 L349.0,123.0 L350.0,124.0 L351.0,125.2 L352.0,126.6 L353.0,128.0 L354.0,129.4 L355.0,131.0 L356.0,133.0 L357.0,136.7 L358.0,142.1 L359.0,148.1 L360.0,153.4 L361.0,157.0 L362.0,159.0 L363.0,160.7 L364.0,162.0 L365.0,163.0 L366.0,163.9 L367.0,164.7 L368.0,165.0 L369.0,164.2 L370.0,162.8 L371.0,162.0 L372.0,162.9 L373.0,165.1 L374.0,168.0 L375.0,170.9 L376.0,173.1 L377.0,174.0 L378.0,171.0 L379.0,164.5 L380.0,158.0 L381.0,155.0 L382.0,156.3 L383.0,158.7 L384.0,160.0 L385.0,158.4 L386.0,155.0 L387.0,151.6 L388.0,150.0 L388.9,151.1 L389.9,153.5 L390.8,155.9 L391.7,157.0 L392.7,156.0 L393.7,153.5 L394.7,150.4 L395.7,147.3 L396.7,145.0 L397.8,143.2 L398.9,141.7 L400.0,141.0 L401.0,141.5 L402.0,142.9 L403.0,144.8 L404.0,147.0 L404.9,150.8 L405.8,155.6 L406.7,158.0 L407.8,156.7 L408.9,154.3 L410.0,153.0 L411.0,155.1 L412.0,160.0 L413.0,166.0 L414.0,170.9 L415.0,173.0 L416.0,172.2 L417.0,170.2 L418.0,167.3 L419.0,163.7 L420.0,160.0 L421.0,154.8 L422.0,149.0 L423.0,144.3 L424.0,140.0 L425.0,135.9 L426.0,132.0 L427.0,127.6 L428.0,122.8 L429.0,118.5 L430.0,115.2 L431.0,114.0 L432.0,115.8 L433.0,120.1 L434.0,125.4 L435.0,130.0 L436.0,133.5 L437.0,136.7 L438.0,140.1 L439.0,144.0 L440.0,148.6 L441.0,154.0 L442.0,160.0 L443.0,169.1 L444.0,179.2 L445.0,184.0 L446.0,183.1 L447.0,180.9 L448.0,178.0 L449.0,172.5 L450.0,164.0 L451.0,155.0 L452.0,148.0 L453.0,143.3 L454.0,139.4 L455.0,136.0 L456.0,132.5 L457.0,129.4 L458.0,128.0 L459.0,129.6 L460.0,133.2 L461.0,137.3 L462.0,140.0 L463.0,141.3 L464.0,142.2 L465.0,143.1 L466.0,144.0 L467.0,144.9 L468.0,145.8 L469.0,146.8 L470.0,148.0 L471.0,149.5 L472.0,151.2 L473.0,153.3 L474.0,155.5 L475.0,158.0 L476.0,161.5 L477.0,166.1 L478.0,170.0 L479.0,172.0 L480.0,172.4 L481.0,172.7 L482.0,172.9 L483.0,173.0 L484.0,172.9 L485.0,172.5 L486.0,172.0 L487.0,170.1 L488.0,166.7 L489.0,163.5 L490.0,162.0 L491.0,162.7 L492.0,164.2 L493.0,166.2 L494.0,168.0 L495.0,169.8 L496.0,171.8 L497.0,173.3 L498.0,174.0 L499.0,172.1 L500.0,168.0 L501.0,163.9 L502.0,162.0 L503.0,162.6 L504.0,164.1 L505.0,166.3 L506.0,168.8 L507.0,171.5 L508.0,174.0 L509.0,176.2 L510.0,178.7 L511.0,182.0 L512.0,189.2 L513.0,198.4 L514.0,203.0 L515.0,202.5 L516.0,201.5 L517.0,200.5 L518.0,200.0 L519.0,200.4 L520.0,201.4 L521.0,202.8 L522.0,204.2 L523.0,205.6 L524.0,206.6 L525.0,207.0 L526.0,206.7 L527.0,205.8 L528.0,204.9 L529.0,204.0 L530.0,203.3 L531.0,202.4 L532.0,201.6 L533.0,200.8 L534.0,200.1 L535.0,199.5 L536.0,199.1 L537.0,199.0 L538.0,199.3 L539.0,200.2 L540.0,201.2 L541.0,202.0 L542.0,202.7 L543.0,203.5 L544.0,204.2 L545.0,204.9 L546.0,205.5 L547.0,205.9 L548.0,206.0 L549.0,205.5 L550.0,204.1 L551.0,202.2 L552.0,200.0 L553.0,196.6 L554.0,192.2 L555.0,189.0 L556.0,187.1 L557.0,185.5 L558.0,184.4 L559.0,184.0 L560.0,184.4 L561.0,185.5 L562.0,187.1 L563.0,189.0 L564.0,191.0 L565.0,194.0 L566.0,198.4 L567.0,203.0 L568.0,206.5 L569.0,208.0 L570.0,206.9 L571.0,204.1 L572.0,200.5 L573.0,196.9 L574.0,194.1 L575.0,193.0 L576.0,193.1 L577.0,193.4 L578.0,193.9 L579.0,194.4 L580.0,195.0 L581.0,196.0 L582.0,197.6 L583.0,199.5 L584.0,201.5 L585.0,203.3 L586.0,204.5 L587.0,205.0 L588.0,204.6 L589.0,203.5 L590.0,201.9 L591.0,200.0 L592.0,198.0 L593.0,194.5 L594.0,190.1 L595.0,188.0 L596.0,188.4 L597.0,189.4 L598.0,190.8 L599.0,192.5 L600.0,194.2 L601.0,195.8 L602.0,197.0 L603.0,198.0 L604.0,199.1 L605.0,200.1 L606.0,200.7 L607.0,201.0 L608.0,199.5 L609.0,195.7 L610.0,191.0 L611.0,186.7 L612.0,184.0 L613.0,182.6 L614.0,181.4 L615.0,181.0 L616.0,181.2 L617.0,181.9 L618.0,182.8 L619.0,183.9 L620.0,185.0 L621.0,186.3 L622.0,188.0 L623.0,189.9 L624.0,191.8 L625.0,193.6 L626.0,195.0 L627.0,196.3 L628.0,197.6 L629.0,198.6 L630.0,199.0 L631.0,198.7 L632.0,197.8 L633.0,196.5 L634.0,195.0 L635.0,193.4 L636.0,192.0 L637.0,190.8 L638.0,189.6 L639.0,188.1 L640.0,186.0 L641.0,181.3 L642.0,176.0 L643.0,173.1 L644.0,170.0 L645.0,163.6 L646.0,156.0 L647.0,149.5 L648.0,144.0 L649.0,139.3 L650.0,134.8 L651.0,130.8 L652.0,128.0 L653.0,127.0 L654.0,127.0 L655.0,127.0 L656.0,127.0 L657.0,127.9 L658.0,129.9 L659.0,132.2 L660.0,134.0 L661.0,135.0 L662.0,135.8 L663.0,137.0 L664.0,139.5 L665.0,143.0 L666.0,146.0 L667.0,147.7 L668.0,149.1 L669.0,151.0 L670.0,155.6 L671.0,159.0 L672.0,158.3 L673.0,156.6 L674.0,154.0 L675.0,151.0 L676.0,145.9 L677.0,138.6 L678.0,132.0 L679.0,126.2 L680.0,120.3 L681.0,115.8 L682.0,114.0 L683.0,114.1 L684.0,114.3 L685.0,114.6 L686.0,115.0 L687.0,116.1 L688.0,118.2 L689.0,121.0 L690.0,124.0 L691.0,128.5 L692.0,134.5 L693.0,139.8 L694.0,142.0 L695.0,141.8 L696.0,141.3 L697.0,140.7 L698.0,140.0 L699.0,139.4 L700.0,138.6 L701.0,137.8 L702.0,137.0 L703.0,135.9 L704.0,134.6 L705.0,133.4 L706.0,132.4 L707.0,132.0 L708.0,133.6 L709.0,136.4 L710.0,138.0 L711.0,138.0 L712.0,138.0 L713.0,138.0 L714.0,138.0 L715.0,133.1 L716.0,123.9 L717.0,119.0 L718.0,119.8 L719.0,121.2 L720.0,122.0 L721.0,121.0 L722.0,119.0 L723.0,118.0 L724.0,119.2 L725.0,122.2 L726.0,125.9 L727.0,129.0 L728.0,131.9 L729.0,134.7 L730.0,136.0 L731.0,134.4 L732.0,131.0 L733.0,128.0 L734.0,126.3 L735.0,124.9 L736.0,123.0 L737.0,118.8 L738.0,113.6 L739.0,111.0 L740.0,112.2 L741.0,115.1 L742.0,118.7 L743.0,122.0 L744.0,125.0 L745.0,128.2 L746.0,131.3 L747.0,134.0 L748.0,136.6 L749.0,139.0 L750.0,140.0 L751.0,139.2 L752.0,137.4 L753.0,135.0 L754.0,131.5 L755.0,126.6 L756.0,121.1 L757.0,116.0 L758.0,111.3 L759.0,106.6 L760.0,102.1 L761.0,98.0 L762.0,94.1 L763.0,90.4 L764.0,88.0 L765.0,86.5 L766.0,85.2 L767.0,84.3 L768.0,84.0 L769.0,84.4 L770.0,85.4 L771.0,87.0 L772.0,94.3 L773.0,102.0 L774.0,104.0 L775.0,105.2 L776.0,107.0 L777.0,110.8 L778.0,116.3 L779.0,122.0 L780.0,128.8 L781.0,133.0 L782.0,130.9 L783.0,127.1 L784.0,125.0 L785.0,125.8 L786.0,127.9 L787.0,130.8 L788.0,134.0 L789.0,139.8 L790.0,144.0 L791.0,136.5 L792.0,129.0 L793.0,130.6 L794.0,134.2 L795.0,138.0 L796.0,142.3 L797.0,145.0 L798.0,142.8 L799.0,138.0 L800.0,133.2 L801.0,131.0 L802.0,132.6 L803.0,136.0 L804.0,143.4 L805.0,149.0 L806.0,148.2 L807.0,146.5 L808.0,144.8 L809.0,144.0 L810.0,144.1 L811.0,144.2 L812.0,144.5 L813.0,144.8 L814.0,145.0 L815.0,145.3 L816.0,145.6 L817.0,145.9 L818.0,146.0 L819.0,145.4 L820.0,144.0 L821.0,142.1 L822.0,140.0 L823.0,137.4 L824.0,134.1 L825.0,130.7 L826.0,128.0 L827.0,125.8 L828.0,123.7 L829.0,121.8 L830.0,120.5 L831.0,120.0 L832.0,120.1 L833.0,120.3 L834.0,120.7 L835.0,121.3 L836.0,122.0 L837.0,125.0 L838.0,130.0 L839.0,133.0 L840.0,133.6 L841.0,134.0 L842.0,134.3 L843.0,134.6 L844.0,135.0 L845.0,135.6 L846.0,136.4 L847.0,137.2 L848.0,137.8 L849.0,138.0 L850.0,136.4 L851.0,132.8 L852.0,129.0 L853.0,127.0 L854.0,126.6 L855.0,126.4 L856.0,126.0 L857.0,124.9 L858.0,123.2 L859.0,121.7 L860.0,121.0 L861.0,121.3 L862.0,122.0 L863.0,123.0 L864.0,126.4 L865.0,131.4 L866.0,134.0 L867.0,134.0 L868.0,134.0 L869.0,134.0 L870.0,134.0 L871.0,134.0 L872.0,135.7 L873.0,139.7 L874.0,144.4 L875.0,148.0 L876.0,150.3 L877.0,152.3 L878.0,154.1 L879.0,156.0 L880.0,157.8 L881.0,159.6 L882.0,162.0 L883.0,167.7 L884.0,172.0 L885.0,169.9 L886.0,165.3 L887.0,161.0 L888.0,157.3 L889.0,153.3 L890.0,150.3 L891.0,149.0 L892.0,149.8 L893.0,151.2 L894.0,152.0 L895.0,151.0 L896.0,150.0 L897.0,151.8 L898.0,155.2 L899.0,157.0 L900.0,156.7 L901.0,156.1 L902.0,155.1 L903.0,154.0 L904.0,151.7 L905.0,148.6 L906.0,147.0 L907.0,147.3 L908.0,147.7 L909.0,148.0 L910.0,144.7 L911.0,138.2 L912.0,134.0 L913.0,133.0 L914.0,132.4 L915.0,131.9 L916.0,131.0 L917.0,129.0 L918.0,125.9 L919.0,123.2 L920.0,122.0 L921.0,122.5 L922.0,123.5 L923.0,124.5 L924.0,125.0 L925.0,124.0 L926.0,121.5 L927.0,118.5 L928.0,116.0 L929.0,115.0 L930.0,115.7 L931.0,117.3 L932.0,119.0 L933.0,120.5 L934.0,122.0 L935.0,123.7 L936.0,126.0 L937.0,129.6 L938.0,134.6 L939.0,140.0 L940.0,147.3 L941.0,155.3 L942.0,159.0 L943.0,158.5 L944.0,157.3 L945.0,156.0 L946.0,154.3 L947.0,152.3 L948.0,151.0 L949.0,150.5 L950.0,150.1 L951.0,150.0 L952.0,150.8 L953.0,152.6 L954.0,155.0 L955.0,158.8 L956.0,163.8 L957.0,168.0 L958.0,171.1 L959.0,173.8 L960.0,175.0 L961.0,175.2 L962.0,175.3 L963.0,175.4 L964.0,175.5 L965.0,175.5 L966.0,175.2 L967.0,174.4 L968.0,173.3 L969.0,172.2 L970.0,171.1 L971.0,170.3 L972.0,170.0 L973.0,170.3 L974.0,171.2 L975.0,172.5 L976.0,173.8 L977.0,175.0 L978.0,176.3 L979.0,177.9 L980.0,179.4 L981.0,180.6 L982.0,181.0 L983.0,180.8 L984.0,180.1 L985.0,179.2 L986.0,178.0 L987.0,174.7 L988.0,169.0 L989.0,163.3 L990.0,160.0 L991.0,158.8 L992.0,157.9 L993.0,157.2 L994.0,157.0 L995.0,158.3 L996.0,160.7 L997.0,162.0 L998.0,161.7 L999.0,161.3 L1000.0,161.0 L1001.0,163.5 L1002.0,168.5 L1003.0,172.0 L1004.0,173.4 L1005.0,174.7 L1006.0,175.6 L1007.0,176.3 L1008.0,176.5 L1009.0,175.9 L1010.0,174.4 L1011.0,172.6 L1012.0,171.0 L1013.0,170.0 L1014.0,169.6 L1015.0,169.3 L1016.0,169.1 L1017.0,168.8 L1018.0,168.5 L1019.0,167.9 L1020.0,167.3 L1021.0,167.0 L1022.0,167.3 L1023.0,167.9 L1024.0,168.9 L1025.0,170.0 L1026.0,172.1 L1027.0,174.7 L1028.0,176.0 L1029.0,175.2 L1030.0,173.8 L1031.0,173.0 L1032.0,173.5 L1033.0,174.8 L1034.0,176.2 L1035.0,177.5 L1036.0,178.0 L1037.0,176.5 L1038.0,173.1 L1039.0,168.9 L1040.0,165.5 L1041.0,164.0 L1042.0,165.4 L1043.0,168.5 L1044.0,171.6 L1045.0,173.0 L1046.0,172.7 L1047.0,172.3 L1048.0,172.0 L1049.0,172.2 L1050.0,172.7 L1051.0,173.5 L1052.0,176.0 L1053.0,178.0 L1054.0,176.4 L1055.0,172.5 L1056.0,167.9 L1057.0,164.0 L1058.0,161.3 L1059.0,158.9 L1060.0,156.0 L1061.0,151.3 L1062.0,145.3 L1063.0,140.2 L1064.0,138.0 L1065.0,138.6 L1066.0,140.1 L1067.0,141.9 L1068.0,143.4 L1069.0,144.0 L1070.0,140.6 L1071.0,134.4 L1072.0,131.0 L1073.0,133.4 L1074.0,138.0 L1075.0,143.9 L1076.0,149.0 L1077.0,151.3 L1078.0,153.0 L1079.0,154.4 L1080.0,156.0 L1081.0,157.9 L1082.0,159.8 L1083.0,161.8 L1084.0,164.0 L1085.0,167.1 L1086.0,170.4 L1087.0,172.0 L1088.0,171.3 L1089.0,169.8 L1090.0,168.0 L1091.0,165.9 L1092.0,163.5 L1093.0,161.0 L1094.0,158.1 L1095.0,155.3 L1096.0,154.0 L1097.0,154.0 L1098.0,154.0 L1099.0,154.0 L1100.0,154.0 L1101.0,154.5 L1102.0,155.5 L1103.0,156.0 L1104.0,150.7 L1105.0,145.0 L1106.0,144.4 L1107.0,144.1 L1108.0,143.9 L1109.0,143.5 L1110.0,142.8 L1111.0,141.9 L1112.0,140.5 L1113.0,136.5 L1114.0,130.9 L1115.0,128.0 L1116.0,132.2 L1117.0,138.5 L1118.0,143.1 L1119.0,147.2 L1120.0,149.0 L1121.0,146.5 L1122.0,144.0 L1123.0,144.3 L1124.0,145.0 L1125.0,146.0 L1126.0,148.3 L1127.0,151.4 L1128.0,153.0 L1129.0,150.2 L1130.0,144.6 L1131.0,140.0 L1132.0,137.3 L1133.0,136.0 L1134.0,138.5 L1135.0,141.0 L1136.0,140.7 L1137.0,140.3 L1138.0,140.0 L1139.0,142.6 L1140.0,146.0 L1141.0,147.0 L1142.0,147.7 L1143.0,149.0 L1144.0,157.0 L1145.0,155.2 L1146.0,151.8 L1147.0,150.0 L1148.0,152.0 L1149.0,154.0 L1150.0,146.4 L1151.0,136.0 L1152.0,131.0 L1153.0,126.9 L1154.0,123.6 L1155.0,121.0 L1156.0,119.3 L1157.0,118.0 L1158.0,116.0 L1159.0,110.2 L1160.0,102.1 L1161.0,98.0 L1162.0,98.3 L1163.0,99.0 L1164.0,104.2 L1165.0,109.0 L1166.0,106.5 L1167.0,104.0 L1168.0,104.8 L1169.0,106.7 L1170.0,109.0 L1171.0,112.9 L1172.0,116.0 L1173.0,116.4 L1174.0,116.7 L1175.0,117.0 L1176.0,117.4 L1177.0,118.0 L1178.0,119.0 L1179.0,124.3 L1180.0,129.0 L1181.0,128.6 L1182.0,128.0" fill="none" stroke="#E02F44" stroke-width="2" stroke-linejoin="round"/>
<line x1="9" y1="471.5" x2="1191" y2="471.5" stroke="rgba(36,41,46,0.12)" stroke-width="1"/>
<line x1="9" y1="495.5" x2="1191" y2="495.5" stroke="rgba(36,41,46,0.12)" stroke-width="1"/>
<line x1="9" y1="519.5" x2="1191" y2="519.5" stroke="rgba(36,41,46,0.12)" stroke-width="1"/>
<line x1="9" y1="542.5" x2="1191" y2="542.5" stroke="rgba(36,41,46,0.12)" stroke-width="1"/>
<line x1="9" y1="566.5" x2="1191" y2="566.5" stroke="rgba(36,41,46,0.12)" stroke-width="1"/>
<line x1="9" y1="590.5" x2="1191" y2="590.5" stroke="rgba(36,41,46,0.12)" stroke-width="1"/>
<rect x="17" y="480.9" width="14" height="4" rx="2" fill="#56A64B"/>
<rect x="17" y="505.0" width="14" height="4" rx="2" fill="#E0B400"/>
<rect x="17" y="528.8" width="14" height="4" rx="2" fill="#5794F2"/>
<rect x="17" y="552.7" width="14" height="4" rx="2" fill="#FF780A"/>
<rect x="17" y="576.8" width="14" height="4" rx="2" fill="#E02F44"/>
<text x="8.40" y="21.9" font-size="15.4" fill="#24292E" stroke="#24292E" stroke-width="0.1" textLength="29.94" lengthAdjust="spacingAndGlyphs">PM*</text>
<text x="11.93" y="96.7" font-size="12.7" fill="#24292E" stroke="#24292E" stroke-width="0.1" textLength="55.65" lengthAdjust="spacingAndGlyphs">60 µg/m³</text>
<text x="12.36" y="152.2" font-size="12.7" fill="#24292E" stroke="#24292E" stroke-width="0.1" textLength="55.08" lengthAdjust="spacingAndGlyphs">50 µg/m³</text>
<text x="12.36" y="207.7" font-size="12.7" fill="#24292E" stroke="#24292E" stroke-width="0.1" textLength="55.11" lengthAdjust="spacingAndGlyphs">40 µg/m³</text>
<text x="12.26" y="263.2" font-size="12.7" fill="#24292E" stroke="#24292E" stroke-width="0.1" textLength="55.23" lengthAdjust="spacingAndGlyphs">30 µg/m³</text>
<text x="12.88" y="318.7" font-size="12.7" fill="#24292E" stroke="#24292E" stroke-width="0.1" textLength="54.57" lengthAdjust="spacingAndGlyphs">20 µg/m³</text>
<text x="14.88" y="374.2" font-size="12.7" fill="#24292E" stroke="#24292E" stroke-width="0.1" textLength="52.69" lengthAdjust="spacingAndGlyphs">10 µg/m³</text>
<text x="20.12" y="430.0" font-size="12.7" fill="#24292E" stroke="#24292E" stroke-width="0.1" textLength="47.34" lengthAdjust="spacingAndGlyphs">0 µg/m³</text>
<text x="93.22" y="445.0" font-size="12.7" fill="#24292E" stroke="#24292E" stroke-width="0.1" textLength="69.35" lengthAdjust="spacingAndGlyphs">27/02 12:00</text>
<text x="184.93" y="445.0" font-size="12.7" fill="#24292E" stroke="#24292E" stroke-width="0.1" textLength="69.77" lengthAdjust="spacingAndGlyphs">27/02 14:00</text>
<text x="278.22" y="445.0" font-size="12.7" fill="#24292E" stroke="#24292E" stroke-width="0.1" textLength="69.35" lengthAdjust="spacingAndGlyphs">27/02 16:00</text>
<text x="369.82" y="445.0" font-size="12.7" fill="#24292E" stroke="#24292E" stroke-width="0.1" textLength="70.29" lengthAdjust="spacingAndGlyphs">27/02 18:00</text>
<text x="462.05" y="445.0" font-size="12.7" fill="#24292E" stroke="#24292E" stroke-width="0.1" textLength="71.43" lengthAdjust="spacingAndGlyphs">27/02 20:00</text>
<text x="554.05" y="445.0" font-size="12.7" fill="#24292E" stroke="#24292E" stroke-width="0.1" textLength="71.43" lengthAdjust="spacingAndGlyphs">27/02 22:00</text>
<text x="645.63" y="445.0" font-size="12.7" fill="#24292E" stroke="#24292E" stroke-width="0.1" textLength="74.46" lengthAdjust="spacingAndGlyphs">28/02 00:00</text>
<text x="738.97" y="445.0" font-size="12.7" fill="#24292E" stroke="#24292E" stroke-width="0.1" textLength="71.97" lengthAdjust="spacingAndGlyphs">28/02 02:00</text>
<text x="831.00" y="445.0" font-size="12.7" fill="#24292E" stroke="#24292E" stroke-width="0.1" textLength="73.72" lengthAdjust="spacingAndGlyphs">28/02 04:00</text>
<text x="923.00" y="445.0" font-size="12.7" fill="#24292E" stroke="#24292E" stroke-width="0.1" textLength="73.72" lengthAdjust="spacingAndGlyphs">28/02 06:00</text>
<text x="1016.00" y="445.0" font-size="12.7" fill="#24292E" stroke="#24292E" stroke-width="0.1" textLength="73.72" lengthAdjust="spacingAndGlyphs">28/02 08:00</text>
<text x="1109.94" y="445.0" font-size="12.7" fill="#24292E" stroke="#24292E" stroke-width="0.1" textLength="69.75" lengthAdjust="spacingAndGlyphs">28/02 10:00</text>
<text x="38.26" y="462.9" font-size="12.7" fill="#1F62E0" stroke="#1F62E0" stroke-width="0.1" textLength="35.17" lengthAdjust="spacingAndGlyphs">Name</text>
<text x="1054.22" y="462.9" font-size="12.7" fill="#1F62E0" stroke="#1F62E0" stroke-width="0.1" textLength="22.09" lengthAdjust="spacingAndGlyphs">Min</text>
<text x="1137.39" y="462.9" font-size="12.7" fill="#1F62E0" stroke="#1F62E0" stroke-width="0.1" textLength="25.16" lengthAdjust="spacingAndGlyphs">Max</text>
<text x="38.44" y="486.7" font-size="12.7" fill="#24292E" stroke="#24292E" stroke-width="0.1" textLength="24.79" lengthAdjust="spacingAndGlyphs">PM1</text>
<text x="1032.93" y="486.7" font-size="12.7" fill="#24292E" stroke="#24292E" stroke-width="0.1" textLength="65.87" lengthAdjust="spacingAndGlyphs">23.3 µg/m³</text>
<text x="1116.51" y="486.7" font-size="12.7" fill="#24292E" stroke="#24292E" stroke-width="0.1" textLength="66.13" lengthAdjust="spacingAndGlyphs">46.9 µg/m³</text>
<text x="38.57" y="511.2" font-size="12.7" fill="#24292E" stroke="#24292E" stroke-width="0.1" textLength="38.49" lengthAdjust="spacingAndGlyphs">PM2.5</text>
<text x="1032.93" y="511.2" font-size="12.7" fill="#24292E" stroke="#24292E" stroke-width="0.1" textLength="65.87" lengthAdjust="spacingAndGlyphs">24.9 µg/m³</text>
<text x="1116.51" y="511.2" font-size="12.7" fill="#24292E" stroke="#24292E" stroke-width="0.1" textLength="66.13" lengthAdjust="spacingAndGlyphs">49.5 µg/m³</text>
<text x="38.61" y="534.6" font-size="12.7" fill="#24292E" stroke="#24292E" stroke-width="0.1" textLength="26.77" lengthAdjust="spacingAndGlyphs">PM4</text>
<text x="1034.15" y="534.6" font-size="12.7" fill="#24292E" stroke="#24292E" stroke-width="0.1" textLength="64.60" lengthAdjust="spacingAndGlyphs">26.2 µg/m³</text>
<text x="1118.80" y="534.6" font-size="12.7" fill="#24292E" stroke="#24292E" stroke-width="0.1" textLength="63.76" lengthAdjust="spacingAndGlyphs">51.9 µg/m³</text>
<text x="38.38" y="558.2" font-size="12.7" fill="#24292E" stroke="#24292E" stroke-width="0.1" textLength="32.11" lengthAdjust="spacingAndGlyphs">PM10</text>
<text x="1034.13" y="558.2" font-size="12.7" fill="#24292E" stroke="#24292E" stroke-width="0.1" textLength="64.63" lengthAdjust="spacingAndGlyphs">27.8 µg/m³</text>
<text x="1116.22" y="558.2" font-size="12.7" fill="#24292E" stroke="#24292E" stroke-width="0.1" textLength="66.34" lengthAdjust="spacingAndGlyphs">55.9 µg/m³</text>
<text x="38.41" y="582.0" font-size="12.7" fill="#24292E" stroke="#24292E" stroke-width="0.1" textLength="49.98" lengthAdjust="spacingAndGlyphs">PM total</text>
<text x="1044.06" y="582.0" font-size="12.7" fill="#24292E" stroke="#24292E" stroke-width="0.1" textLength="54.74" lengthAdjust="spacingAndGlyphs">29 µg/m³</text>
<text x="1118.99" y="582.0" font-size="12.7" fill="#24292E" stroke="#24292E" stroke-width="0.1" textLength="63.61" lengthAdjust="spacingAndGlyphs">61.7 µg/m³</text>
</svg>
</body></html>
